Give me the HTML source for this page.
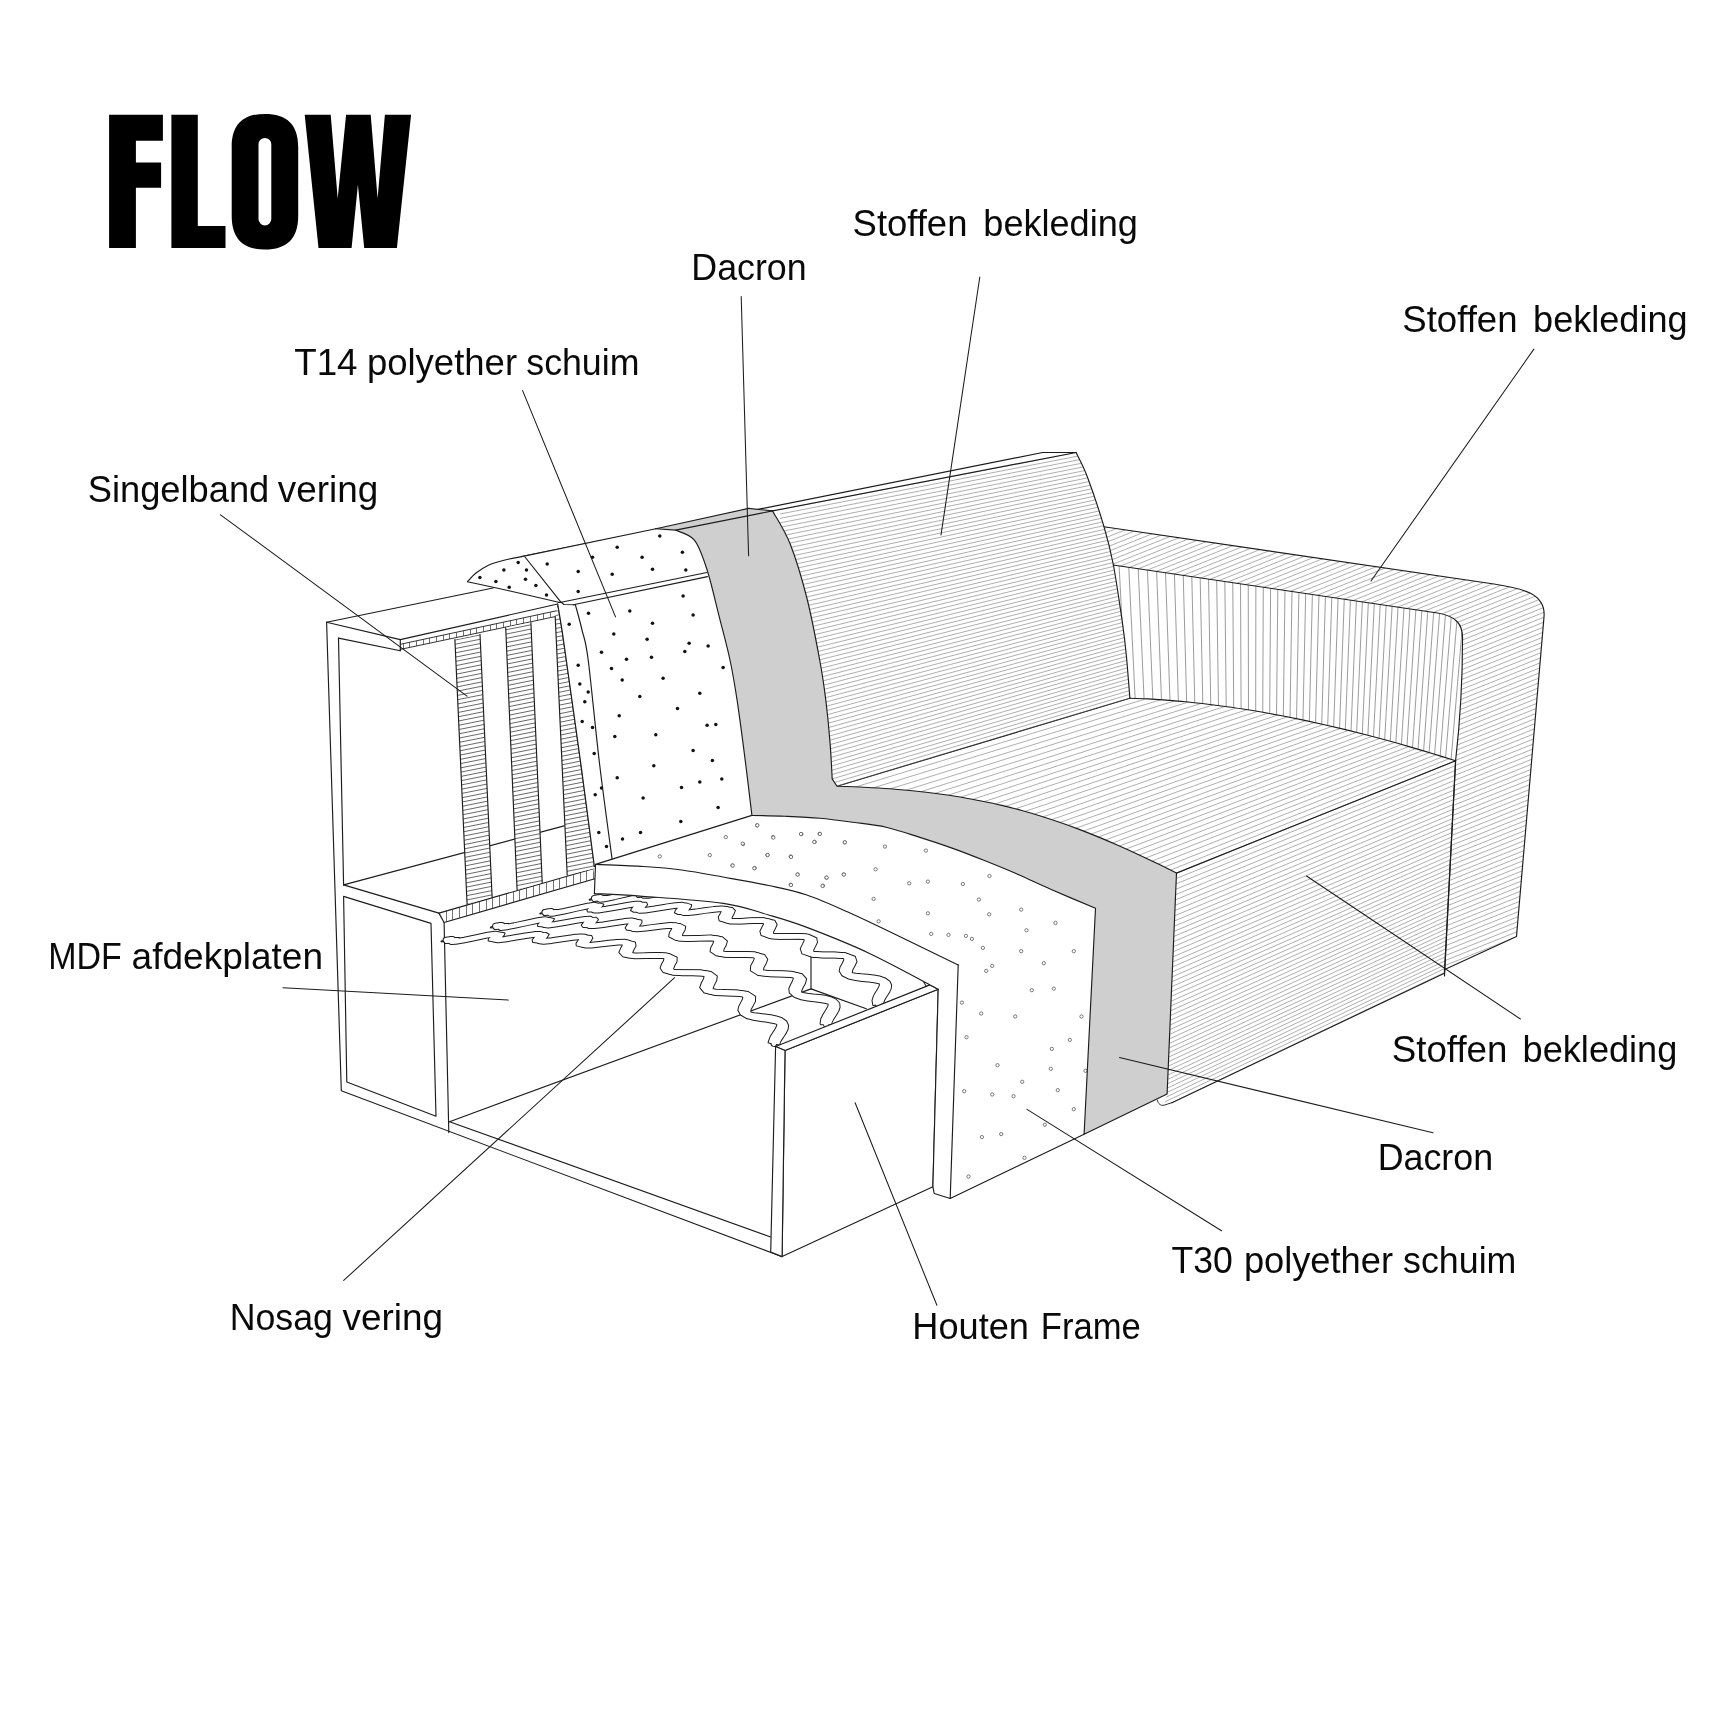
<!DOCTYPE html>
<html><head><meta charset="utf-8"><title>FLOW</title>
<style>html,body{margin:0;padding:0;background:#fff;overflow:hidden;width:1726px;height:1726px}svg{display:block}</style>
</head><body>
<svg width="1726" height="1726" viewBox="0 0 1726 1726">
<rect width="1726" height="1726" fill="#fff"/>
<defs><clipPath id="c1"><path d="M1103.9 526.8L1494 584C1524 588.5 1546 594 1544 617L1516.5 936.4L1444.2 969.7L1455.6 760.8Q1462.5 700 1462.5 641C1463.5 624 1456 616 1437.5 613L1113.1 565Z"/></clipPath>
<clipPath id="c2"><path d="M1113.1 565L1437.5 613C1456 616 1463.5 624 1462.5 641Q1462.5 700 1455.6 760.8C1451.8 759.6 1440.5 756 1433 753.7C1425.5 751.4 1418 749.2 1410.7 747.1C1403.3 744.9 1395.9 742.8 1388.6 740.8C1381.3 738.8 1374.1 736.9 1366.9 735C1359.7 733.2 1352.6 731.4 1345.5 729.6C1338.4 727.9 1331.4 726.3 1324.4 724.7C1317.4 723.1 1310.5 721.6 1303.6 720.1C1296.7 718.7 1289.9 717.3 1283.1 716C1276.3 714.7 1269.6 713.5 1262.9 712.3C1256.2 711.1 1249.6 710 1243 709C1236.4 708 1229.8 707 1223.4 706.2C1216.9 705.3 1210.5 704.5 1204.1 703.7C1197.7 703 1191.4 702.3 1185.1 701.7C1178.8 701.1 1172.6 700.6 1166.4 700.1C1160.2 699.7 1154.1 699.3 1148 698.9C1141.9 698.6 1132.9 698.3 1129.9 698.2L1126.4 656L1122.5 623.4Z"/></clipPath>
<clipPath id="c3"><path d="M1129.9 698.2C1132.9 698.3 1141.9 698.6 1148 698.9C1154.1 699.3 1160.2 699.7 1166.4 700.1C1172.6 700.6 1178.8 701.1 1185.1 701.7C1191.4 702.3 1197.7 703 1204.1 703.7C1210.5 704.5 1216.9 705.3 1223.4 706.2C1229.8 707 1236.4 708 1243 709C1249.6 710 1256.2 711.1 1262.9 712.3C1269.6 713.5 1276.3 714.7 1283.1 716C1289.9 717.3 1296.7 718.7 1303.6 720.1C1310.5 721.6 1317.4 723.1 1324.4 724.7C1331.4 726.3 1338.4 727.9 1345.5 729.6C1352.6 731.4 1359.7 733.2 1366.9 735C1374.1 736.9 1381.3 738.8 1388.6 740.8C1395.9 742.8 1403.3 744.9 1410.7 747.1C1418 749.2 1425.5 751.4 1433 753.7C1440.5 756 1451.8 759.6 1455.6 760.8L1176.5 873.1L1176.5 873.1C1173.1 871.4 1162.9 866.3 1156.2 863.1C1149.5 859.9 1143 856.8 1136.5 853.7C1130 850.7 1123.6 847.8 1117.2 845C1110.8 842.2 1104.5 839.5 1098.1 836.9C1091.8 834.3 1085.5 831.8 1079.2 829.4C1072.9 827 1066.6 824.7 1060.3 822.5C1053.9 820.3 1047.6 818.2 1041.2 816.2C1034.8 814.2 1028.3 812.3 1021.8 810.5C1015.2 808.7 1008.6 807 1001.9 805.4C995.1 803.8 988.3 802.4 981.3 801C974.4 799.6 967.3 798.3 960.1 797C952.8 795.8 945.4 794.7 937.9 793.7C930.3 792.7 922.6 791.8 914.6 791C906.7 790.2 898.5 789.5 890.1 788.8C881.8 788.2 873.2 787.7 864.3 787.2C855.5 786.8 841.6 786.4 837 786.2L1129.9 698.2Z"/></clipPath>
<clipPath id="c4"><path d="M1176.5 873.1L1455.6 760.8L1444.4 973.2L1171.9 1102.7L1164 1105.2L1167.1 1094.1Z"/></clipPath>
<clipPath id="c5"><path d="M772.6 510.9L1076.1 452.5L1076.1 452.5C1078 456.7 1083 465.2 1087.6 477.5C1092.2 489.8 1099.6 511.9 1103.9 526.4C1108.2 540.9 1110.2 548.3 1113.3 564.5C1116.4 580.7 1120.3 608.1 1122.5 623.4C1124.7 638.6 1125.2 643.5 1126.4 656C1127.6 668.5 1129.3 691.2 1129.9 698.2L837 786.2L832.2 778.9L832.2 778.9C831.9 773 831.1 756.3 830.1 743.4C829.1 730.5 827.7 715.6 826 701.7C824.3 687.8 822.9 677.2 819.7 660C816.5 642.8 811.9 617.8 807 598.5C802.1 579.2 796 558.9 790.3 544.3C784.6 529.7 775.5 516.5 772.6 510.9Z"/></clipPath>
<clipPath id="c6"><path d="M454.9 639.6 L480 634.3 L492.1 896.8 L467.1 904.3Z"/></clipPath>
<clipPath id="c7"><path d="M505.7 627.5 L530.9 622.5 L542.2 882.4 L517.1 889.7Z"/></clipPath>
<clipPath id="c8"><path d="M567.2 875.1L555.2 616.6L557.7 604L557.7 604C558.4 608.3 560.6 620.7 562 630C563.4 639.3 563.1 637.6 566.3 660C569.4 682.4 576.2 729.9 580.9 764.3C585.6 798.7 592.1 849.5 594.4 866.5L593.3 868.8Z"/></clipPath>
<clipPath id="c9"><path d="M400.3 644.3 L556.8 610.7 L555.2 616.6 L400.3 649.4Z"/></clipPath>
<clipPath id="c10"><path d="M438.9 913.1 L593.3 868.8 L594.9 878.7 L444.1 922.5Z"/></clipPath>
<path id="r5q" d="M697.5 869.1 L703 868.1 L691.3 871.2 L688.5 871.9ZM703 868.1 L706 868 L693 871 L691.3 871.2ZM706 868 L704.6 869.2 L691.6 872.1 L693 871ZM704.6 869.2 L704.8 869.6 L692.5 872.8 L691.6 872.1ZM704.8 869.6 L705.4 869.5 L702 871.4 L692.5 872.8ZM705.4 869.5 L712.9 867.8 L715.1 868.4 L702 871.4ZM712.9 867.8 L725.5 864.7 L728 865.3 L715.1 868.4ZM725.5 864.7 L738.8 861.7 L736.7 863.4 L728 865.3ZM738.8 861.7 L749.6 860.2 L737.7 863.2 L736.7 863.4ZM749.6 860.2 L751.1 861.1 L738.1 863.7 L737.7 863.2ZM751.1 861.1 L749.4 862.8 L736.6 865.1 L738.1 863.7ZM749.4 862.8 L748.1 864.2 L735.1 866.7 L736.6 865.1ZM748.1 864.2 L748.6 864.7 L737.4 867.6 L735.1 866.7ZM748.6 864.7 L749.7 864.5 L747.7 866.5 L737.4 867.6ZM749.7 864.5 L757 863.1 L759.3 864.4 L747.7 866.5ZM757 863.1 L768.1 860.8 L770.8 862 L759.3 864.4ZM768.1 860.8 L779.8 858.5 L779.4 860.4 L770.8 862ZM779.8 858.5 L791 857.2 L781.5 860.1 L779.4 860.4ZM791 857.2 L795.1 858.1 L782.1 860.3 L781.5 860.1ZM795.1 858.1 L794.1 859.9 L781.2 861.7 L782.1 860.3ZM794.1 859.9 L792.3 861.8 L779.3 863.7 L781.2 861.7ZM792.3 861.8 L792.3 862.8 L779.7 865.3 L779.3 863.7ZM792.3 862.8 L792.8 862.8 L787.8 865.4 L779.7 865.3ZM792.8 862.8 L798 862 L799.6 863.7 L787.8 865.4ZM798 862 L808.5 860.1 L811.4 861.6 L799.6 863.7ZM808.5 860.1 L820.3 857.9 L821.3 859.8 L811.4 861.6ZM820.3 857.9 L831.9 856.5 L825.5 859.3 L821.3 859.8ZM831.9 856.5 L838.7 857.1 L825.9 859.4 L825.5 859.3ZM838.7 857.1 L838.7 859 L825.7 860.5 L825.9 859.4ZM838.7 859 L836.9 861.1 L824 862.5 L825.7 860.5ZM836.9 861.1 L836.1 862.6 L823 864.5 L824 862.5ZM836.1 862.6 L836.6 863 L825.7 865.8 L823 864.5ZM836.6 863 L837.3 863 L834.7 865.5 L825.7 865.8ZM837.3 863 L842.8 862.2 L844.7 864.1 L834.7 865.5ZM842.8 862.2 L851.7 860.6 L854.6 862.5 L844.7 864.1ZM851.7 860.6 L861.6 858.9 L863.4 861.1 L854.6 862.5ZM861.6 858.9 L871.6 857.7 L868.8 860.5 L863.4 861.1ZM871.6 857.7 L880.6 858 L869.5 860.5 L868.8 860.5ZM880.6 858 L883.1 860.2 L870 861.2 L869.5 860.5ZM883.1 860.2 L881.8 863 L869 863.2 L870 861.2ZM881.8 863 L880 865.9 L867.1 866.1 L869 863.2ZM880 865.9 L880 867.7 L867.7 869.2 L867.1 866.1ZM880 867.7 L880.6 867.8 L876.6 871.4 L867.7 869.2ZM880.6 867.8 L887.2 867.6 L889.1 871.3 L876.6 871.4ZM887.2 867.6 L899 866.7 L901.5 870.4 L889.1 871.3ZM899 866.7 L911.7 866.2 L910.7 870.1 L901.5 870.4ZM911.7 866.2 L923.1 868 L912.4 870.2 L910.7 870.1ZM923.1 868 L925.5 871.8 L912.8 871.5 L912.4 870.2ZM925.5 871.8 L923.6 875.6 L911.1 874.8 L912.8 871.5ZM923.6 875.6 L922 878.8 L909.3 878.5 L911.1 874.8ZM922 878.8 L922.4 880.2 L911.1 882 L909.3 878.5ZM922.4 880.2 L923.2 880.3 L920.4 884.3 L911.1 882ZM923.2 880.3 L929.4 880.3 L931.1 884.5 L920.4 884.3ZM929.4 880.3 L939.3 879.8 L941.7 884.1 L931.1 884.5ZM939.3 879.8 L949.9 879.5 L950.3 883.9 L941.7 884.1ZM949.9 879.5 L960.2 880.5 L954 884.1 L950.3 883.9ZM960.2 880.5 L966.6 883.8 L954.3 884.4 L954 884.1ZM966.6 883.8 L966.7 887.5 L954.2 886.5 L954.3 884.4ZM966.7 887.5 L964.6 891.3 L952.3 889.9 L954.2 886.5ZM964.6 891.3 L963.2 894.5 L950.6 893.8 L952.3 889.9ZM963.2 894.5 L963.5 895.8 L953 897.9 L950.6 893.8ZM963.5 895.8 L965 896 L963.3 900.6 L953 897.9ZM965 896 L973.2 896.2 L975.2 900.9 L963.3 900.6ZM973.2 896.2 L985 895.9 L986.7 900.7 L975.2 900.9ZM985 895.9 L996.9 896.6 L993.9 901.1 L986.7 900.7ZM996.9 896.6 L1006.3 900.1 L994.7 901.3 L993.9 901.1ZM1006.3 900.1 L1007.2 904.6 L994.8 903.3 L994.7 901.3ZM1007.2 904.6 L1005 908.8 L992.9 906.9 L994.8 903.3ZM1005 908.8 L1003.3 912.4 L991 910.9 L992.9 906.9ZM1003.3 912.4 L1003.3 914.2 L991.5 914.8 L991 910.9ZM1003.3 914.2 L1003.5 914.4 L997.2 918.5 L991.5 914.8ZM1003.5 914.4 L1005.9 914.8 L1005.1 920.3 L997.2 918.5ZM1005.9 914.8 L1011.5 915.2 L1012.7 921 L1005.1 920.3ZM1011.5 915.2 L1018.3 915.4 L1019.8 921.4 L1012.7 921ZM1018.3 915.4 L1025.2 915.8 L1026 921.9 L1019.8 921.4ZM1025.2 915.8 L1031.7 916.5 L1030.4 922.5 L1026 921.9ZM1031.7 916.5 L1037.7 918.1 L1032.5 923 L1030.4 922.5ZM1037.7 918.1 L1042.5 921 L1032.6 923.1 L1032.5 923ZM1042.5 921 L1044.5 924.3 L1032.8 923.5 L1032.6 923.1ZM1044.5 924.3 L1044.4 927.3 L1032.7 924.9 L1032.8 923.5ZM1044.4 927.3 L1043.2 930.2 L1032 927 L1032.7 924.9ZM1043.2 930.2 L1041.5 933.1 L1030.6 929.5 L1032 927ZM1041.5 933.1 L1039.9 935.8 L1029 932.1 L1030.6 929.5ZM1039.9 935.8 L1038.7 938.1 L1027.7 934.9 L1029 932.1ZM1038.7 938.1 L1038.2 939.9 L1026.9 937.6 L1027.7 934.9ZM1038.2 939.9 L1038.2 940.8 L1027.1 940.4 L1026.9 937.6ZM1038.2 940.8 L1038.3 941 L1031.4 945.5 L1027.1 940.4ZM1038.3 941 L1039.4 941.5 L1036.6 947.8 L1031.4 945.5Z"/><path id="r5c" d="M693 870.5 L697.2 869.7 L699.5 869.5 L698.1 870.6 L698.6 871.2 L703.7 870.5 L714 868.1 L726.8 865 L737.7 862.6 L743.6 861.7 L744.6 862.4 L743 863.9 L741.6 865.5 L743 866.1 L748.7 865.5 L758.2 863.7 L769.4 861.4 L779.6 859.5 L786.3 858.6 L788.6 859.2 L787.7 860.8 L785.8 862.7 L786 864.1 L790.3 864.1 L798.8 862.9 L809.9 860.8 L820.8 858.9 L828.7 857.9 L832.3 858.2 L832.2 859.8 L830.5 861.8 L829.5 863.6 L831.1 864.4 L836 864.2 L843.7 863.1 L853.1 861.5 L862.5 860 L870.2 859.1 L875 859.3 L876.5 860.7 L875.4 863.1 L873.6 866 L873.9 868.4 L878.6 869.6 L888.1 869.4 L900.3 868.6 L911.2 868.1 L917.7 869.1 L919.2 871.7 L917.4 875.2 L915.7 878.6 L916.7 881.1 L921.8 882.3 L930.3 882.4 L940.5 882 L950.1 881.7 L957.1 882.3 L960.5 884.1 L960.4 887 L958.4 890.6 L956.9 894.1 L958.2 896.9 L964.2 898.3 L974.2 898.5 L985.8 898.3 L995.4 898.8 L1000.5 900.7 L1001 903.9 L999 907.9 L997.1 911.6 L997.4 914.5 L1000.3 916.4 L1005.5 917.5 L1012.1 918.1 L1019.1 918.4 L1025.6 918.8 L1031 919.5 L1035.1 920.6 L1037.6 922 L1038.7 923.9 L1038.6 926.1 L1037.6 928.6 L1036 931.3 L1034.4 934 L1033.2 936.5 L1032.6 938.7 L1032.7 940.6 L1034.8 943.3 L1038 944.7"/>
<path id="r4q" d="M648.1 883 L653.5 882 L641.9 885.2 L639.1 885.8ZM653.5 882 L656.6 882 L643.6 885 L641.9 885.2ZM656.6 882 L655.2 883.2 L642.3 886 L643.6 885ZM655.2 883.2 L655.4 883.8 L643 886.9 L642.3 886ZM655.4 883.8 L655.9 883.7 L652.1 885.7 L643 886.9ZM655.9 883.7 L663 882.1 L665.1 882.9 L652.1 885.7ZM663 882.1 L675.4 879.2 L678 879.8 L665.1 882.9ZM675.4 879.2 L688.5 876.2 L687 877.9 L678 879.8ZM688.5 876.2 L699.7 874.6 L688.4 877.6 L687 877.9ZM699.7 874.6 L701.9 875.6 L688.8 878 L688.4 877.6ZM701.9 875.6 L700.3 877.3 L687.4 879.4 L688.8 878ZM700.3 877.3 L698.9 878.8 L685.8 881.1 L687.4 879.4ZM698.9 878.8 L699.3 879.4 L687.4 882.3 L685.8 881.1ZM699.3 879.4 L699.9 879.3 L696.9 881.6 L687.4 882.3ZM699.9 879.3 L706.3 878.2 L708.4 879.6 L696.9 881.6ZM706.3 878.2 L717.1 876 L719.9 877.3 L708.4 879.6ZM717.1 876 L728.7 873.8 L729.1 875.6 L719.9 877.3ZM728.7 873.8 L740.1 872.3 L732.3 875.1 L729.1 875.6ZM740.1 872.3 L745.7 873 L732.7 875.3 L732.3 875.1ZM745.7 873 L745.2 874.8 L732.2 876.6 L732.7 875.3ZM745.2 874.8 L743.3 876.8 L730.3 878.5 L732.2 876.6ZM743.3 876.8 L742.9 878.1 L729.9 880.4 L730.3 878.5ZM742.9 878.1 L743.3 878.2 L736.2 881 L729.9 880.4ZM743.3 878.2 L747 877.7 L747.8 879.7 L736.2 881ZM747 877.7 L756.7 876 L759.6 877.6 L747.8 879.7ZM756.7 876 L768.3 873.9 L770.1 875.8 L759.6 877.6ZM768.3 873.9 L779.9 872.3 L775.9 875 L770.1 875.8ZM779.9 872.3 L788.6 872.5 L776.4 875 L775.9 875ZM788.6 872.5 L789.7 874.3 L776.7 875.9 L776.4 875ZM789.7 874.3 L788.1 876.5 L775.2 877.8 L776.7 875.9ZM788.1 876.5 L786.8 878.3 L773.8 879.9 L775.2 877.8ZM786.8 878.3 L787.2 879.1 L774.9 881.5 L773.8 879.9ZM787.2 879.1 L787.4 879.1 L782.2 881.9 L774.9 881.5ZM787.4 879.1 L791.1 878.6 L792 880.8 L782.2 881.9ZM791.1 878.6 L799.1 877.3 L801.8 879.4 L792 880.8ZM799.1 877.3 L808.7 875.7 L811.2 878 L801.8 879.4ZM808.7 875.7 L818.7 874.4 L818.2 877.1 L811.2 878ZM818.7 874.4 L828.6 874.2 L820.2 877.1 L818.2 877.1ZM828.6 874.2 L833.5 876 L820.6 877.4 L820.2 877.1ZM833.5 876 L833.1 878.8 L820.2 879.1 L820.6 877.4ZM833.1 878.8 L831.1 881.9 L818.3 881.9 L820.2 879.1ZM831.1 881.9 L830.4 884.4 L817.5 885.1 L818.3 881.9ZM830.4 884.4 L830.8 884.9 L823.4 888.1 L817.5 885.1ZM830.8 884.9 L834.9 884.9 L835.6 888.7 L823.4 888.1ZM834.9 884.9 L845.6 884.2 L848.2 888 L835.6 888.7ZM845.6 884.2 L858.2 883.5 L858.9 887.5 L848.2 888ZM858.2 883.5 L870.5 884.4 L862.8 887.7 L858.9 887.5ZM870.5 884.4 L876 888.1 L863.3 888.3 L862.8 887.7ZM876 888.1 L874.8 892 L862.3 891.1 L863.3 888.3ZM874.8 892 L872.8 895.5 L860.2 894.8 L862.3 891.1ZM872.8 895.5 L872.5 897.8 L860 898.4 L860.2 894.8ZM872.5 897.8 L872.8 898.1 L866.6 901.7 L860 898.4ZM872.8 898.1 L876.6 898.2 L877.2 902.6 L866.6 901.7ZM876.6 898.2 L885.4 898 L887.8 902.4 L877.2 902.6ZM885.4 898 L895.8 897.6 L897.4 902.1 L887.8 902.4ZM895.8 897.6 L906.2 898 L903.5 902.3 L897.4 902.1ZM906.2 898 L915.2 900.5 L904.3 902.4 L903.5 902.3ZM915.2 900.5 L917.2 904.4 L904.7 903.7 L904.3 902.4ZM917.2 904.4 L915.6 908.3 L903.3 906.8 L904.7 903.7ZM915.6 908.3 L913.6 911.9 L901.2 910.7 L903.3 906.8ZM913.6 911.9 L913.4 914.3 L901.2 914.8 L901.2 910.7ZM913.4 914.3 L913.8 914.5 L909 918.7 L901.2 914.8ZM913.8 914.5 L919.5 914.9 L920.7 919.7 L909 918.7ZM919.5 914.9 L930.5 914.8 L932.6 919.7 L920.7 919.7ZM930.5 914.8 L942.4 915 L942 919.8 L932.6 919.7ZM942.4 915 L953.5 917.4 L944.5 920.2 L942 919.8ZM953.5 917.4 L957.3 922 L944.9 921.2 L944.5 920.2ZM957.3 922 L955.8 926.4 L943.7 924.4 L944.9 921.2ZM955.8 926.4 L953.5 930.3 L941.5 928.3 L943.7 924.4ZM953.5 930.3 L952.8 933.1 L940.5 932.2 L941.5 928.3ZM952.8 933.1 L953 933.9 L943.2 936.2 L940.5 932.2ZM953 933.9 L953.7 934.1 L950.3 939.2 L943.2 936.2ZM953.7 934.1 L957.6 934.6 L957.8 940.5 L950.3 939.2ZM957.6 934.6 L963.6 935 L965 941.1 L957.8 940.5ZM963.6 935 L970.3 935.3 L971.6 941.6 L965 941.1ZM970.3 935.3 L976.9 935.9 L977 942.1 L971.6 941.6ZM976.9 935.9 L983 936.9 L980.5 942.8 L977 942.1ZM983 936.9 L988.6 938.9 L981.8 943.2 L980.5 942.8ZM988.6 938.9 L992.5 942.2 L981.8 943.3 L981.8 943.2ZM992.5 942.2 L993.7 945.5 L982 944 L981.8 943.3ZM993.7 945.5 L993 948.6 L981.7 945.6 L982 944ZM993 948.6 L991.5 951.6 L980.7 947.9 L981.7 945.6ZM991.5 951.6 L989.8 954.5 L979.1 950.6 L980.7 947.9ZM989.8 954.5 L988.2 957.2 L977.5 953.3 L979.1 950.6ZM988.2 957.2 L987.1 959.4 L976.2 956.1 L977.5 953.3ZM987.1 959.4 L986.7 961 L975.6 958.8 L976.2 956.1ZM986.7 961 L986.8 961.9 L977.3 964.2 L975.6 958.8ZM986.8 961.9 L987 962 L981.7 967.5 L977.3 964.2Z"/><path id="r4c" d="M643.6 884.4 L647.7 883.6 L650.1 883.5 L648.8 884.6 L649.2 885.3 L654 884.7 L664 882.5 L676.7 879.5 L687.8 877.1 L694 876.1 L695.4 876.8 L693.9 878.3 L692.3 880 L693.3 880.8 L698.4 880.5 L707.4 878.9 L718.5 876.7 L728.9 874.7 L736.2 873.7 L739.2 874.1 L738.7 875.7 L736.8 877.6 L736.4 879.2 L739.7 879.6 L747.4 878.7 L758.2 876.8 L769.2 874.9 L777.9 873.7 L782.5 873.8 L783.2 875.1 L781.7 877.1 L780.3 879.1 L781 880.3 L784.8 880.5 L791.6 879.7 L800.5 878.4 L810 876.8 L818.4 875.8 L824.4 875.6 L827.1 876.7 L826.6 878.9 L824.7 881.9 L824 884.7 L827.1 886.5 L835.3 886.8 L846.9 886.1 L858.6 885.5 L866.7 886 L869.6 888.2 L868.6 891.6 L866.5 895.2 L866.3 898.1 L869.7 899.9 L876.9 900.4 L886.6 900.2 L896.6 899.9 L904.8 900.1 L909.7 901.5 L910.9 904.1 L909.5 907.5 L907.4 911.3 L907.3 914.5 L911.4 916.6 L920.1 917.3 L931.6 917.2 L942.2 917.4 L949 918.8 L951.1 921.6 L949.7 925.4 L947.5 929.3 L946.6 932.6 L948.1 935.1 L952 936.6 L957.7 937.5 L964.3 938 L970.9 938.4 L976.9 939 L981.8 939.9 L985.2 941.1 L987.2 942.7 L987.8 944.7 L987.4 947.1 L986.1 949.8 L984.4 952.5 L982.8 955.2 L981.7 957.7 L981.1 959.9 L982 963 L984.3 964.8"/>
<path id="r3q" d="M598.7 896.9 L604.1 896 L592.5 899.1 L589.7 899.7ZM604.1 896 L607.2 896 L594.2 898.9 L592.5 899.1ZM607.2 896 L605.9 897.3 L592.9 900 L594.2 898.9ZM605.9 897.3 L606 897.9 L593.5 900.9 L592.9 900ZM606 897.9 L606.5 897.8 L602.3 900 L593.5 900.9ZM606.5 897.8 L613.1 896.4 L615.1 897.3 L602.3 900ZM613.1 896.4 L625.3 893.6 L628 894.4 L615.1 897.3ZM625.3 893.6 L638.3 890.7 L637.4 892.4 L628 894.4ZM638.3 890.7 L649.8 889.1 L639 892.1 L637.4 892.4ZM649.8 889.1 L652.6 890 L639.5 892.4 L639 892.1ZM652.6 890 L651.2 891.7 L638.3 893.8 L639.5 892.4ZM651.2 891.7 L649.6 893.4 L636.6 895.5 L638.3 893.8ZM649.6 893.4 L649.9 894.2 L637.5 896.9 L636.6 895.5ZM649.9 894.2 L650.3 894.1 L646 896.6 L637.5 896.9ZM650.3 894.1 L655.8 893.2 L657.5 894.8 L646 896.6ZM655.8 893.2 L666.1 891.2 L669 892.6 L657.5 894.8ZM666.1 891.2 L677.6 889 L678.7 890.8 L669 892.6ZM677.6 889 L689 887.5 L682.9 890.2 L678.7 890.8ZM689 887.5 L696.1 887.9 L683.3 890.3 L682.9 890.2ZM696.1 887.9 L696.2 889.7 L683.2 891.4 L683.3 890.3ZM696.2 889.7 L694.3 891.7 L681.4 893.4 L683.2 891.4ZM694.3 891.7 L693.5 893.3 L680.4 895.3 L681.4 893.4ZM693.5 893.3 L694 893.6 L684.8 896.5 L680.4 895.3ZM694 893.6 L696.3 893.4 L696.1 895.6 L684.8 896.5ZM696.3 893.4 L705.1 891.9 L707.8 893.7 L696.1 895.6ZM705.1 891.9 L716.4 889.9 L718.7 891.8 L707.8 893.7ZM716.4 889.9 L727.9 888.3 L725.9 890.8 L718.7 891.8ZM727.9 888.3 L738 888 L727 890.7 L725.9 890.8ZM738 888 L740.6 889.7 L727.5 891.3 L727 890.7ZM740.6 889.7 L739.3 891.9 L726.4 893.1 L727.5 891.3ZM739.3 891.9 L737.7 893.9 L724.7 895.2 L726.4 893.1ZM737.7 893.9 L737.6 895 L724.7 897.1 L724.7 895.2ZM737.6 895 L738 895.2 L729.8 898.1 L724.7 897.1ZM738 895.2 L740 895 L739.4 897.5 L729.8 898.1ZM740 895 L746.7 894 L749.1 896.2 L739.4 897.5ZM746.7 894 L755.9 892.6 L758.7 894.9 L749.1 896.2ZM755.9 892.6 L765.8 891.2 L766.8 893.9 L758.7 894.9ZM765.8 891.2 L775.9 890.5 L770.7 893.7 L766.8 893.9ZM775.9 890.5 L783.3 892 L771 893.8 L770.7 893.7ZM783.3 892 L784.1 894.7 L771.2 895 L771 893.8ZM784.1 894.7 L782.3 897.9 L769.6 897.7 L771.2 895ZM782.3 897.9 L780.9 900.9 L768 901 L769.6 897.7ZM780.9 900.9 L781.3 902 L770.9 904.4 L768 901ZM781.3 902 L783.2 902.1 L782.3 906 L770.9 904.4ZM783.2 902.1 L792.4 901.7 L794.8 905.7 L782.3 906ZM792.4 901.7 L804.8 901 L806.5 905 L794.8 905.7ZM804.8 901 L817.2 901.2 L812.9 905.1 L806.5 905ZM817.2 901.2 L825.8 904.4 L813.5 905.3 L812.9 905.1ZM825.8 904.4 L825.9 908.4 L813.3 907.6 L813.5 905.3ZM825.9 908.4 L823.7 912.1 L811.2 911.1 L813.3 907.6ZM823.7 912.1 L822.6 915 L810 914.8 L811.2 911.1ZM822.6 915 L823.1 915.9 L813.4 918.5 L810 914.8ZM823.1 915.9 L824.7 916.1 L823.3 920.5 L813.4 918.5ZM824.7 916.1 L831.9 916.1 L833.8 920.6 L823.3 920.5ZM831.9 916.1 L841.9 915.8 L844 920.4 L833.8 920.6ZM841.9 915.8 L852.3 915.8 L851.8 920.4 L844 920.4ZM852.3 915.8 L862.3 917.4 L854.4 920.7 L851.8 920.4ZM862.3 917.4 L867.2 921.3 L854.7 921.2 L854.4 920.7ZM867.2 921.3 L866.5 925.3 L854.1 923.8 L854.7 921.2ZM866.5 925.3 L864.2 929.2 L852 927.6 L854.1 923.8ZM864.2 929.2 L863.2 932.3 L850.7 931.8 L852 927.6ZM863.2 932.3 L863.5 933.2 L855.1 936.3 L850.7 931.8ZM863.5 933.2 L866.6 933.5 L866.4 938.4 L855.1 936.3ZM866.6 933.5 L876.2 933.6 L878.3 938.6 L866.4 938.4ZM876.2 933.6 L888.1 933.7 L889 938.7 L878.3 938.6ZM888.1 933.7 L899.6 935 L894.2 939.2 L889 938.7ZM899.6 935 L906.6 939.4 L894.5 939.5 L894.2 939.2ZM906.6 939.4 L906.3 943.9 L894.2 942.1 L894.5 939.5ZM906.3 943.9 L904 948.1 L892.1 945.8 L894.2 942.1ZM904 948.1 L902.4 951.5 L890.3 949.7 L892.1 945.8ZM902.4 951.5 L902.5 953.3 L890.8 953.6 L890.3 949.7ZM902.5 953.3 L902.6 953.4 L895.9 957.5 L890.8 953.6ZM902.6 953.4 L904.6 953.9 L903.1 959.7 L895.9 957.5ZM904.6 953.9 L909.5 954.4 L910.1 960.7 L903.1 959.7ZM909.5 954.4 L915.7 954.8 L916.9 961.3 L910.1 960.7ZM915.7 954.8 L922.1 955.3 L922.9 961.9 L916.9 961.3ZM922.1 955.3 L928.3 956.1 L927.6 962.5 L922.9 961.9ZM928.3 956.1 L934.1 957.5 L930.3 963.2 L927.6 962.5ZM934.1 957.5 L939.2 960.1 L930.9 963.4 L930.3 963.2ZM939.2 960.1 L942.1 963.5 L930.9 963.6 L930.9 963.4ZM942.1 963.5 L942.4 966.9 L931.1 964.6 L930.9 963.6ZM942.4 966.9 L941.3 970.1 L930.4 966.6 L931.1 964.6ZM941.3 970.1 L939.6 973.2 L929.1 969.1 L930.4 966.6ZM939.6 973.2 L937.8 976.1 L927.4 971.9 L929.1 969.1ZM937.8 976.1 L936.2 978.6 L925.8 974.6 L927.4 971.9ZM936.2 978.6 L935.3 980.7 L924.6 977.4 L925.8 974.6ZM935.3 980.7 L935 982.6 L924.2 982 L924.6 977.4ZM935 982.6 L935.1 982.8 L926.8 986.3 L924.2 982Z"/><path id="r3c" d="M594.2 898.3 L598.3 897.5 L600.7 897.4 L599.4 898.6 L599.7 899.4 L604.4 898.9 L614.1 896.9 L626.7 894 L637.8 891.5 L644.4 890.6 L646.1 891.2 L644.8 892.7 L643.1 894.5 L643.7 895.5 L648.2 895.4 L656.7 894 L667.5 891.9 L678.1 889.9 L686 888.8 L689.7 889.1 L689.7 890.5 L687.8 892.5 L687 894.3 L689.4 895.1 L696.2 894.5 L706.4 892.8 L717.6 890.9 L726.9 889.5 L732.5 889.4 L734 890.5 L732.9 892.5 L731.2 894.5 L731.2 896 L733.9 896.6 L739.7 896.2 L747.9 895.1 L757.3 893.7 L766.3 892.5 L773.3 892.1 L777.1 892.9 L777.7 894.9 L775.9 897.8 L774.4 900.9 L776.1 903.2 L782.8 904.1 L793.6 903.7 L805.6 903 L815.1 903.2 L819.6 904.9 L819.6 908 L817.5 911.6 L816.3 914.9 L818.2 917.2 L824 918.3 L832.8 918.4 L842.9 918.1 L852.1 918.1 L858.4 919.1 L861 921.3 L860.3 924.5 L858.1 928.4 L856.9 932 L859.3 934.7 L866.5 936 L877.3 936.1 L888.5 936.2 L896.9 937.1 L900.6 939.5 L900.2 943 L898 947 L896.4 950.6 L896.6 953.5 L899.2 955.5 L903.8 956.8 L909.8 957.5 L916.3 958.1 L922.5 958.6 L927.9 959.3 L932.2 960.3 L935 961.8 L936.5 963.6 L936.7 965.8 L935.9 968.4 L934.3 971.2 L932.6 974 L931 976.6 L930 979 L929.6 982.3 L931 984.5"/>
<path id="r2q" d="M549.3 910.8 L554.7 910 L543.1 913 L540.3 913.6ZM554.7 910 L557.8 910 L544.8 912.8 L543.1 913ZM557.8 910 L556.5 911.4 L543.5 913.9 L544.8 912.8ZM556.5 911.4 L556.6 912 L544 915 L543.5 913.9ZM556.6 912 L557 912 L552.5 914.2 L544 915ZM557 912 L563.3 910.7 L565.2 911.7 L552.5 914.2ZM563.3 910.7 L575.2 908 L578 908.9 L565.2 911.7ZM575.2 908 L588.1 905.2 L587.6 906.9 L578 908.9ZM588.1 905.2 L599.9 903.6 L589.7 906.5 L587.6 906.9ZM599.9 903.6 L603.3 904.4 L590.2 906.8 L589.7 906.5ZM603.3 904.4 L602.1 906.2 L589.2 908.1 L590.2 906.8ZM602.1 906.2 L600.4 907.9 L587.4 910 L589.2 908.1ZM600.4 907.9 L600.4 908.9 L587.8 911.5 L587.4 910ZM600.4 908.9 L600.8 908.9 L595.3 911.6 L587.8 911.5ZM600.8 908.9 L605.3 908.2 L606.6 910 L595.3 911.6ZM605.3 908.2 L615.1 906.4 L618 907.9 L606.6 910ZM615.1 906.4 L626.5 904.3 L628.1 906.1 L618 907.9ZM626.5 904.3 L637.9 902.7 L633.4 905.3 L628.1 906.1ZM637.9 902.7 L646.2 902.8 L633.8 905.3 L633.4 905.3ZM646.2 902.8 L647.1 904.6 L634 906.3 L633.8 905.3ZM647.1 904.6 L645.3 906.7 L632.4 908.2 L634 906.3ZM645.3 906.7 L644.2 908.5 L631.1 910.3 L632.4 908.2ZM644.2 908.5 L644.7 909.1 L633.9 911.8 L631.1 910.3ZM644.7 909.1 L645.9 908.9 L644.4 911.4 L633.9 911.8ZM645.9 908.9 L653.5 907.8 L656 909.7 L644.4 911.4ZM653.5 907.8 L664.5 905.9 L667.2 907.9 L656 909.7ZM664.5 905.9 L675.9 904.2 L675.5 906.7 L667.2 907.9ZM675.9 904.2 L686.8 903.6 L677.6 906.5 L675.5 906.7ZM686.8 903.6 L691.2 905.1 L678.1 906.8 L677.6 906.5ZM691.2 905.1 L690.5 907.3 L677.5 908.4 L678.1 906.8ZM690.5 907.3 L688.7 909.4 L675.8 910.5 L677.5 908.4ZM688.7 909.4 L688.1 910.9 L675 912.6 L675.8 910.5ZM688.1 910.9 L688.6 911.3 L678.1 914 L675 912.6ZM688.6 911.3 L689.4 911.3 L686.9 914.1 L678.1 914ZM689.4 911.3 L694.7 910.6 L696.5 913.1 L686.9 914.1ZM694.7 910.6 L703.3 909.4 L706.1 911.8 L696.5 913.1ZM703.3 909.4 L713 908 L714.9 910.7 L706.1 911.8ZM713 908 L723 907.1 L720.6 910.3 L714.9 910.7ZM723 907.1 L732.2 908 L721.4 910.4 L720.6 910.3ZM732.2 908 L734.9 910.7 L721.9 911.1 L721.4 910.4ZM734.9 910.7 L733.5 913.9 L720.8 913.6 L721.9 911.1ZM733.5 913.9 L731.6 917.2 L718.8 916.9 L720.8 913.6ZM731.6 917.2 L731.7 919.1 L719.6 920.5 L718.8 916.9ZM731.7 919.1 L732.3 919.2 L729 923.1 L719.6 920.5ZM732.3 919.2 L739.5 919.2 L741.4 923.2 L729 923.1ZM739.5 919.2 L751.4 918.5 L753.6 922.7 L741.4 923.2ZM751.4 918.5 L763.8 918.4 L762.2 922.6 L753.6 922.7ZM763.8 918.4 L774.5 920.7 L763.6 922.7 L762.2 922.6ZM774.5 920.7 L776.6 924.8 L764 924.2 L763.6 922.7ZM776.6 924.8 L774.7 928.7 L762.3 927.5 L764 924.2ZM774.7 928.7 L773 932 L760.4 931.3 L762.3 927.5ZM773 932 L773.2 933.8 L761.4 935 L760.4 931.3ZM773.2 933.8 L773.6 933.9 L769.6 938.1 L761.4 935ZM773.6 933.9 L778.8 934.2 L779.9 938.8 L769.6 938.1ZM778.8 934.2 L788 934 L790.3 938.7 L779.9 938.8ZM788 934 L798.4 933.9 L799.3 938.6 L790.3 938.7ZM798.4 933.9 L808.6 934.7 L804.2 939 L799.3 938.6ZM808.6 934.7 L816.3 938.2 L804.5 939.2 L804.2 939ZM816.3 938.2 L817 942.3 L804.6 941 L804.5 939.2ZM817 942.3 L815 946.4 L802.8 944.6 L804.6 941ZM815 946.4 L813.2 950 L800.8 948.8 L802.8 944.6ZM813.2 950 L813.4 951.8 L802.3 953.4 L800.8 948.8ZM813.4 951.8 L814.5 952.1 L812.2 956.8 L802.3 953.4ZM814.5 952.1 L822.3 952.4 L824 957.5 L812.2 956.8ZM822.3 952.4 L833.7 952.4 L835.4 957.6 L824 957.5ZM833.7 952.4 L845.3 953.2 L843 958.1 L835.4 957.6ZM845.3 953.2 L854.9 956.7 L844 958.3 L843 958.1ZM854.9 956.7 L856.5 961.5 L844.3 960 L844 958.3ZM856.5 961.5 L854.5 965.8 L842.7 963.4 L844.3 960ZM854.5 965.8 L852.4 969.6 L840.5 967.3 L842.7 963.4ZM852.4 969.6 L851.7 972.2 L839.7 971.1 L840.5 967.3ZM851.7 972.2 L852 973 L842.2 975.3 L839.7 971.1ZM852 973 L852.5 973.2 L848.6 978.5 L842.2 975.3ZM852.5 973.2 L855.9 973.8 L855.5 980.1 L848.6 978.5ZM855.9 973.8 L861.3 974.3 L862.2 980.9 L855.5 980.1ZM861.3 974.3 L867.5 974.8 L868.5 981.6 L862.2 980.9ZM867.5 974.8 L873.8 975.5 L873.9 982.2 L868.5 981.6ZM873.8 975.5 L879.6 976.5 L877.8 983 L873.9 982.2ZM879.6 976.5 L885.1 978.4 L879.6 983.5 L877.8 983ZM885.1 978.4 L889.5 981.5 L879.8 983.6 L879.6 983.5ZM889.5 981.5 L891.2 985.2 L879.9 984 L879.8 983.6ZM891.2 985.2 L890.7 988.7 L879.8 985.5 L879.9 984ZM890.7 988.7 L889.2 991.9 L878.8 987.8 L879.8 985.5ZM889.2 991.9 L887.3 994.9 L877.2 990.5 L878.8 987.8ZM887.3 994.9 L885.5 997.7 L875.4 993.3 L877.2 990.5ZM885.5 997.7 L884.2 1000.1 L873.9 996.1 L875.4 993.3ZM884.2 1000.1 L883.2 1002.8 L872.5 1000.6 L873.9 996.1ZM883.2 1002.8 L883.3 1003.6 L873.3 1005 L872.5 1000.6Z"/><path id="r2c" d="M544.8 912.2 L548.9 911.5 L551.3 911.4 L550 912.6 L550.3 913.5 L554.7 913.1 L564.2 911.2 L576.6 908.4 L587.9 906 L594.8 905.1 L596.7 905.6 L595.6 907.2 L593.9 909 L594.1 910.2 L598 910.3 L606 909.1 L616.6 907.2 L627.3 905.2 L635.6 904 L640 904.1 L640.5 905.4 L638.9 907.4 L637.6 909.4 L639.3 910.4 L645.2 910.2 L654.7 908.8 L665.8 906.9 L675.7 905.5 L682.2 905.1 L684.6 906 L684 907.8 L682.3 910 L681.6 911.7 L683.4 912.7 L688.1 912.7 L695.6 911.9 L704.7 910.6 L714 909.4 L721.8 908.7 L726.8 909.2 L728.4 910.9 L727.1 913.8 L725.2 917.1 L725.6 919.8 L730.7 921.2 L740.5 921.2 L752.5 920.6 L763 920.5 L769.1 921.7 L770.3 924.5 L768.5 928.1 L766.7 931.6 L767.3 934.4 L771.6 936 L779.4 936.5 L789.2 936.3 L798.9 936.2 L806.4 936.9 L810.4 938.7 L810.8 941.6 L808.9 945.5 L807 949.4 L807.8 952.6 L813.3 954.4 L823.1 955 L834.6 955 L844.1 955.6 L849.5 957.5 L850.4 960.7 L848.6 964.6 L846.5 968.4 L845.7 971.7 L847.1 974.1 L850.5 975.8 L855.7 976.9 L861.7 977.6 L868 978.2 L873.8 978.8 L878.7 979.7 L882.3 981 L884.6 982.6 L885.5 984.6 L885.2 987.1 L884 989.9 L882.2 992.7 L880.5 995.5 L879 998.1 L877.8 1001.7 L878.3 1004.3"/>
<path id="r1q" d="M499.9 924.7 L505.2 923.9 L493.7 926.9 L490.9 927.5ZM505.2 923.9 L508.4 924 L495.4 926.8 L493.7 926.9ZM508.4 924 L507.2 925.4 L494.2 927.9 L495.4 926.8ZM507.2 925.4 L507.2 926.1 L494.5 929 L494.2 927.9ZM507.2 926.1 L507.6 926.2 L502.6 928.5 L494.5 929ZM507.6 926.2 L513.5 925 L515.2 926.1 L502.6 928.5ZM513.5 925 L525.2 922.4 L528 923.4 L515.2 926.1ZM525.2 922.4 L537.9 919.7 L537.9 921.4 L528 923.4ZM537.9 919.7 L549.8 918.1 L540.3 921 L537.9 921.4ZM549.8 918.1 L553.9 918.9 L540.8 921.2 L540.3 921ZM553.9 918.9 L553 920.6 L540 922.5 L540.8 921.2ZM553 920.6 L551.2 922.5 L538.2 924.4 L540 922.5ZM551.2 922.5 L551 923.6 L538.1 926 L538.2 924.4ZM551 923.6 L551.4 923.7 L544.6 926.5 L538.1 926ZM551.4 923.7 L555 923.2 L555.8 925.2 L544.6 926.5ZM555 923.2 L564.2 921.6 L567.1 923.2 L555.8 925.2ZM564.2 921.6 L575.5 919.6 L577.5 921.4 L567.1 923.2ZM575.5 919.6 L586.8 917.9 L583.7 920.5 L577.5 921.4ZM586.8 917.9 L596.1 917.8 L584.4 920.4 L583.7 920.5ZM596.1 917.8 L597.9 919.5 L584.8 921.2 L584.4 920.4ZM597.9 919.5 L596.3 921.7 L583.4 923 L584.8 921.2ZM596.3 921.7 L594.9 923.6 L581.8 925.2 L583.4 923ZM594.9 923.6 L595.3 924.5 L583.3 927 L581.8 925.2ZM595.3 924.5 L595.9 924.5 L592.7 927.2 L583.3 927ZM595.9 924.5 L602.2 923.6 L604.2 925.8 L592.7 927.2ZM602.2 923.6 L612.7 921.9 L615.5 924 L604.2 925.8ZM612.7 921.9 L624 920.2 L624.7 922.6 L615.5 924ZM624 920.2 L635.1 919.4 L628.2 922.3 L624.7 922.6ZM635.1 919.4 L641.4 920.5 L628.6 922.4 L628.2 922.3ZM641.4 920.5 L641.5 922.7 L628.5 923.7 L628.6 922.4ZM641.5 922.7 L639.8 924.9 L626.9 925.9 L628.5 923.7ZM639.8 924.9 L638.7 926.7 L625.7 928 L626.9 925.9ZM638.7 926.7 L639.1 927.5 L627.1 929.8 L625.7 928ZM639.1 927.5 L639.4 927.5 L634.3 930.5 L627.1 929.8ZM639.4 927.5 L643 927.2 L643.9 929.8 L634.3 930.5ZM643 927.2 L650.7 926.1 L653.4 928.7 L643.9 929.8ZM650.7 926.1 L660.3 924.8 L662.7 927.6 L653.4 928.7ZM660.3 924.8 L670.2 923.8 L669.8 927 L662.7 927.6ZM670.2 923.8 L680.2 924.1 L672 927.1 L669.8 927ZM680.2 924.1 L685.2 926.6 L672.4 927.4 L672 927.1ZM685.2 926.6 L684.6 929.9 L671.9 929.5 L672.4 927.4ZM684.6 929.9 L682.5 933.4 L669.8 932.8 L671.9 929.5ZM682.5 933.4 L681.9 936 L669.2 936.5 L669.8 932.8ZM681.9 936 L682.3 936.4 L675.9 939.9 L669.2 936.5ZM682.3 936.4 L687.1 936.5 L688.1 940.7 L675.9 939.9ZM687.1 936.5 L698.1 936 L700.5 940.3 L688.1 940.7ZM698.1 936 L710.4 935.7 L710.6 940 L700.5 940.3ZM710.4 935.7 L722.2 937.2 L713.9 940.3 L710.6 940ZM722.2 937.2 L726.9 941.2 L714.3 941 L713.9 940.3ZM726.9 941.2 L725.7 945.2 L713.3 944 L714.3 941ZM725.7 945.2 L723.6 948.9 L711.2 947.7 L713.3 944ZM723.6 948.9 L723.1 951.4 L710.6 951.5 L711.2 947.7ZM723.1 951.4 L723.4 951.8 L716.1 955.3 L710.6 951.5ZM723.4 951.8 L726.4 952.1 L726.2 956.8 L716.1 955.3ZM726.4 952.1 L734.4 952.1 L736.5 957 L726.2 956.8ZM734.4 952.1 L744.6 952 L746.2 956.9 L736.5 957ZM744.6 952 L754.8 952.4 L753 957.2 L746.2 956.9ZM754.8 952.4 L764.3 955 L754.4 957.4 L753 957.2ZM764.3 955 L767.2 959.3 L754.8 958.5 L754.4 957.4ZM767.2 959.3 L765.7 963.5 L753.6 961.6 L754.8 958.5ZM765.7 963.5 L763.4 967.5 L751.2 965.8 L753.6 961.6ZM763.4 967.5 L763 970.3 L750.8 970.4 L751.2 965.8ZM763 970.3 L763.4 970.6 L758.1 974.9 L750.8 970.4ZM763.4 970.6 L768.8 971.1 L769.8 976.3 L758.1 974.9ZM768.8 971.1 L779.5 971.3 L781.5 976.5 L769.8 976.3ZM779.5 971.3 L791.1 971.7 L790.8 976.9 L781.5 976.5ZM791.1 971.7 L801.9 974.2 L793.6 977.4 L790.8 976.9ZM801.9 974.2 L806.1 979 L793.9 978.1 L793.6 977.4ZM806.1 979 L804.9 983.5 L793 981.1 L793.9 978.1ZM804.9 983.5 L802.6 987.5 L790.9 984.9 L793 981.1ZM802.6 987.5 L801.2 990.8 L789.3 988.7 L790.9 984.9ZM801.2 990.8 L801.1 992.5 L789.8 992.8 L789.3 988.7ZM801.1 992.5 L801.3 992.6 L794.3 996.8 L789.8 992.8ZM801.3 992.6 L803 993.1 L801 999.2 L794.3 996.8ZM803 993.1 L807.4 993.8 L807.6 1000.4 L801 999.2ZM807.4 993.8 L813.1 994.4 L814 1001.2 L807.6 1000.4ZM813.1 994.4 L819.3 995 L819.8 1001.9 L814 1001.2ZM819.3 995 L825.2 995.8 L824.5 1002.7 L819.8 1001.9ZM825.2 995.8 L830.8 997.2 L827.6 1003.4 L824.5 1002.7ZM830.8 997.2 L835.9 999.6 L828.5 1003.8 L827.6 1003.4ZM835.9 999.6 L839.2 1003.3 L828.6 1003.9 L828.5 1003.8ZM839.2 1003.3 L839.6 1007.1 L828.7 1004.8 L828.6 1003.9ZM839.6 1007.1 L838.5 1010.6 L828.1 1006.7 L828.7 1004.8ZM838.5 1010.6 L836.7 1013.8 L826.7 1009.3 L828.1 1006.7ZM836.7 1013.8 L834.8 1016.8 L825 1012.1 L826.7 1009.3ZM834.8 1016.8 L833.1 1019.4 L823.2 1014.9 L825 1012.1ZM833.1 1019.4 L831.6 1022.4 L821.3 1018.8 L823.2 1014.9ZM831.6 1022.4 L831.3 1024.2 L820.6 1023.3 L821.3 1018.8ZM831.3 1024.2 L831.4 1024.3 L820.8 1024.2 L820.6 1023.3Z"/><path id="r1c" d="M495.4 926.1 L499.4 925.4 L501.9 925.4 L500.7 926.7 L500.8 927.6 L505.1 927.3 L514.3 925.6 L526.6 922.9 L537.9 920.6 L545.1 919.5 L547.4 920 L546.5 921.6 L544.7 923.4 L544.6 924.8 L548 925.1 L555.4 924.2 L565.7 922.4 L576.5 920.5 L585.2 919.2 L590.3 919.1 L591.3 920.3 L589.9 922.3 L588.4 924.4 L589.3 925.8 L594.3 925.8 L603.2 924.7 L614.1 923 L624.3 921.4 L631.6 920.8 L635 921.5 L635 923.2 L633.4 925.4 L632.2 927.4 L633.1 928.6 L636.9 929 L643.5 928.5 L652.1 927.4 L661.5 926.2 L670 925.4 L676.1 925.6 L678.8 927 L678.2 929.7 L676.2 933.1 L675.5 936.2 L679.1 938.2 L687.6 938.6 L699.3 938.2 L710.5 937.9 L718 938.7 L720.6 941.1 L719.5 944.6 L717.4 948.3 L716.9 951.4 L719.7 953.5 L726.3 954.5 L735.5 954.6 L745.4 954.4 L753.9 954.8 L759.3 956.2 L761 958.9 L759.6 962.6 L757.3 966.7 L756.9 970.3 L760.7 972.8 L769.3 973.7 L780.5 973.9 L790.9 974.3 L797.8 975.8 L800 978.6 L799 982.3 L796.7 986.2 L795.2 989.7 L795.5 992.6 L797.8 994.7 L802 996.2 L807.5 997.1 L813.6 997.8 L819.5 998.4 L824.9 999.2 L829.2 1000.3 L832.2 1001.7 L833.9 1003.6 L834.2 1006 L833.3 1008.7 L831.7 1011.5 L829.9 1014.4 L828.2 1017.1 L826.5 1020.6 L826 1023.7 L826.1 1024.2"/>
<path id="r0q" d="M450.5 938.6 L455.8 937.9 L444.2 940.8 L441.5 941.4ZM455.8 937.9 L459 938.1 L446 940.7 L444.2 940.8ZM459 938.1 L457.8 939.5 L444.8 941.8 L446 940.7ZM457.8 939.5 L457.8 940.3 L445 943.1 L444.8 941.8ZM457.8 940.3 L458.2 940.3 L452.8 942.8 L445 943.1ZM458.2 940.3 L463.6 939.3 L465.3 940.5 L452.8 942.8ZM463.6 939.3 L475.1 936.8 L477.9 937.9 L465.3 940.5ZM475.1 936.8 L487.8 934.2 L488 935.9 L477.9 937.9ZM487.8 934.2 L499.7 932.6 L491 935.4 L488 935.9ZM499.7 932.6 L504.5 933.3 L491.4 935.6 L491 935.4ZM504.5 933.3 L503.8 935.1 L490.8 936.9 L491.4 935.6ZM503.8 935.1 L502 937.1 L489 938.8 L490.8 936.9ZM502 937.1 L501.6 938.3 L488.6 940.6 L489 938.8ZM501.6 938.3 L502 938.5 L493.9 941.4 L488.6 940.6ZM502 938.5 L504.8 938.2 L504.9 940.3 L493.9 941.4ZM504.8 938.2 L513.4 936.8 L516.2 938.5 L504.9 940.3ZM513.4 936.8 L524.4 934.8 L526.8 936.7 L516.2 938.5ZM524.4 934.8 L535.6 933.2 L533.8 935.7 L526.8 936.7ZM535.6 933.2 L545.8 932.9 L534.9 935.6 L533.8 935.7ZM545.8 932.9 L548.6 934.4 L535.5 936.1 L534.9 935.6ZM548.6 934.4 L547.3 936.6 L534.4 937.9 L535.5 936.1ZM547.3 936.6 L545.7 938.8 L532.6 940.1 L534.4 937.9ZM545.7 938.8 L545.8 939.9 L533.2 942.1 L532.6 940.1ZM545.8 939.9 L546.1 940 L541.1 942.9 L533.2 942.1ZM546.1 940 L551 939.4 L552.5 941.8 L541.1 942.9ZM551 939.4 L560.9 937.9 L563.8 940.1 L552.5 941.8ZM560.9 937.9 L572.1 936.2 L573.6 938.6 L563.8 940.1ZM572.1 936.2 L583.2 935.2 L578.6 938.1 L573.6 938.6ZM583.2 935.2 L591.3 936 L579 938.2 L578.6 938.1ZM591.3 936 L592.3 938.1 L579.3 939.2 L579 938.2ZM592.3 938.1 L590.9 940.4 L578 941.2 L579.3 939.2ZM590.9 940.4 L589.5 942.4 L576.5 943.4 L578 941.2ZM589.5 942.4 L589.5 943.6 L576.7 945.4 L576.5 943.4ZM589.5 943.6 L589.8 943.7 L582 946.7 L576.7 945.4ZM589.8 943.7 L591.9 943.6 L591.3 946.5 L582 946.7ZM591.9 943.6 L598.5 942.9 L600.8 945.6 L591.3 946.5ZM598.5 942.9 L607.6 941.7 L610.3 944.6 L600.8 945.6ZM607.6 941.7 L617.5 940.6 L618.4 943.9 L610.3 944.6ZM617.5 940.6 L627.6 940.4 L622.3 943.8 L618.4 943.9ZM627.6 940.4 L635 942.6 L622.6 944 L622.3 943.8ZM635 942.6 L635.5 945.9 L622.7 945.6 L622.6 944ZM635.5 945.9 L633.5 949.5 L620.9 948.8 L622.7 945.6ZM633.5 949.5 L632.2 952.6 L619.4 952.5 L620.9 948.8ZM632.2 952.6 L632.6 953.6 L623.2 956.4 L619.4 952.5ZM632.6 953.6 L635.2 953.8 L634.9 958.1 L623.2 956.4ZM635.2 953.8 L644.9 953.6 L647.3 957.9 L634.9 958.1ZM644.9 953.6 L657.1 953.1 L658.4 957.6 L647.3 957.9ZM657.1 953.1 L669.1 953.9 L664 957.8 L658.4 957.6ZM669.1 953.9 L676.7 957.6 L664.4 958.1 L664 957.8ZM676.7 957.6 L676.5 961.7 L664.1 960.5 L664.4 958.1ZM676.5 961.7 L674.3 965.6 L662 964.2 L664.1 960.5ZM674.3 965.6 L673.1 968.7 L660.6 968 L662 964.2ZM673.1 968.7 L673.5 969.8 L663.3 972 L660.6 968ZM673.5 969.8 L674.6 970 L672.6 974.6 L663.3 972ZM674.6 970 L681.2 970.2 L682.7 975.2 L672.6 974.6ZM681.2 970.2 L690.8 970.2 L692.8 975.2 L682.7 975.2ZM690.8 970.2 L701.1 970.4 L701 975.4 L692.8 975.2ZM701.1 970.4 L711.1 972.1 L704.3 975.8 L701 975.4ZM711.1 972.1 L716.8 976.3 L704.5 976.2 L704.3 975.8ZM716.8 976.3 L716.2 980.6 L704.1 978.8 L704.5 976.2ZM716.2 980.6 L713.9 984.9 L701.8 982.9 L704.1 978.8ZM713.9 984.9 L712.6 988.4 L700.2 987.5 L701.8 982.9ZM712.6 988.4 L712.9 989.3 L704.4 992.5 L700.2 987.5ZM712.9 989.3 L715.9 989.8 L715.7 995 L704.4 992.5ZM715.9 989.8 L725.5 990.1 L727.4 995.5 L715.7 995ZM725.5 990.1 L737 990.4 L737.8 995.8 L727.4 995.5ZM737 990.4 L748.1 992 L742.9 996.4 L737.8 995.8ZM748.1 992 L755.1 996.5 L743.3 996.7 L742.9 996.4ZM755.1 996.5 L755 1001.2 L743.1 999 L743.3 996.7ZM755 1001.2 L752.8 1005.4 L741.2 1002.6 L743.1 999ZM752.8 1005.4 L750.8 1009 L739.2 1006.4 L741.2 1002.6ZM750.8 1009 L750.2 1011.6 L738.4 1010.3 L739.2 1006.4ZM750.2 1011.6 L750.4 1012.3 L740.8 1014.6 L738.4 1010.3ZM750.4 1012.3 L750.9 1012.5 L746.7 1018.1 L740.8 1014.6ZM750.9 1012.5 L754 1013.2 L753.2 1019.8 L746.7 1018.1ZM754 1013.2 L759 1013.8 L759.5 1020.8 L753.2 1019.8ZM759 1013.8 L764.9 1014.5 L765.5 1021.6 L759.5 1020.8ZM764.9 1014.5 L770.9 1015.2 L770.8 1022.4 L765.5 1021.6ZM770.9 1015.2 L776.5 1016.4 L774.8 1023.2 L770.8 1022.4ZM776.5 1016.4 L781.9 1018.2 L776.9 1023.9 L774.8 1023.2ZM781.9 1018.2 L786.3 1021.4 L777.1 1024.1 L776.9 1023.9ZM786.3 1021.4 L788.1 1025.5 L777.3 1024.4 L777.1 1024.1ZM788.1 1025.5 L787.6 1029.3 L777.1 1025.9 L777.3 1024.4ZM787.6 1029.3 L786 1032.6 L776 1028.2 L777.1 1025.9ZM786 1032.6 L784 1035.8 L774.4 1030.9 L776 1028.2ZM784 1035.8 L782.1 1038.6 L772.5 1033.7 L774.4 1030.9ZM782.1 1038.6 L780.3 1041.5 L770.5 1037.1 L772.5 1033.7ZM780.3 1041.5 L779.3 1044.2 L768.8 1041.7 L770.5 1037.1ZM779.3 1044.2 L779.3 1044.6 L768.6 1042.6 L768.8 1041.7Z"/><path id="r0c" d="M446 940 L450 939.4 L452.5 939.4 L451.3 940.7 L451.4 941.7 L455.5 941.5 L464.5 939.9 L476.5 937.4 L487.9 935.1 L495.3 934 L498 934.5 L497.3 936 L495.5 937.9 L495.1 939.4 L498 940 L504.9 939.3 L514.8 937.6 L525.6 935.8 L534.7 934.4 L540.4 934.2 L542 935.3 L540.9 937.3 L539.2 939.5 L539.5 941 L543.6 941.4 L551.8 940.6 L562.3 939 L572.9 937.4 L580.9 936.7 L585.1 937.1 L585.8 938.7 L584.4 940.8 L583 942.9 L583.1 944.5 L585.9 945.2 L591.6 945.1 L599.6 944.2 L608.9 943.1 L617.9 942.2 L625 942.1 L628.8 943.3 L629.1 945.7 L627.2 949.1 L625.8 952.6 L627.9 955 L635.1 956 L646.1 955.7 L657.8 955.4 L666.6 955.9 L670.5 957.9 L670.3 961.1 L668.2 964.9 L666.8 968.3 L668.4 970.9 L673.6 972.3 L682 972.7 L691.8 972.7 L701.1 972.9 L707.7 974 L710.7 976.3 L710.2 979.7 L707.8 983.9 L706.4 987.9 L708.7 990.9 L715.8 992.4 L726.5 992.8 L737.4 993.1 L745.5 994.2 L749.2 996.6 L749 1000.1 L747 1004 L745 1007.7 L744.3 1010.9 L745.6 1013.5 L748.8 1015.3 L753.6 1016.5 L759.3 1017.3 L765.2 1018.1 L770.9 1018.8 L775.7 1019.8 L779.4 1021 L781.7 1022.7 L782.7 1024.9 L782.3 1027.6 L781 1030.4 L779.2 1033.4 L777.3 1036.2 L775.4 1039.3 L774 1042.9 L773.9 1043.6"/>
<filter id="idf" x="0" y="0" width="1726" height="1726" filterUnits="userSpaceOnUse"><feOffset dx="0" dy="0"/></filter></defs>
<path clip-path="url(#c1)" d="M1095 512.6L1555 328.6M1095 517.5L1555 333.5M1095 522.4L1555 338.4M1095 527.3L1555 343.3M1095 532.2L1555 348.2M1095 537.1L1555 353.1M1095 542L1555 358M1095 546.9L1555 362.9M1095 551.8L1555 367.8M1095 556.7L1555 372.7M1095 561.6L1555 377.6M1095 566.5L1555 382.5M1095 571.4L1555 387.4M1095 576.3L1555 392.3M1095 581.2L1555 397.2M1095 586.1L1555 402.1M1095 591L1555 407M1095 595.9L1555 411.9M1095 600.8L1555 416.8M1095 605.7L1555 421.7M1095 610.6L1555 426.6M1095 615.5L1555 431.5M1095 620.4L1555 436.4M1095 625.3L1555 441.3M1095 630.2L1555 446.2M1095 635.1L1555 451.1M1095 640L1555 456M1095 644.9L1555 460.9M1095 649.8L1555 465.8M1095 654.7L1555 470.7M1095 659.6L1555 475.6M1095 664.5L1555 480.5M1095 669.4L1555 485.4M1095 674.3L1555 490.3M1095 679.2L1555 495.2M1095 684.1L1555 500.1M1095 689L1555 505M1095 693.9L1555 509.9M1095 698.8L1555 514.8M1095 703.7L1555 519.7M1095 708.6L1555 524.6M1095 713.5L1555 529.5M1095 718.4L1555 534.4M1095 723.3L1555 539.3M1095 728.2L1555 544.2M1095 733.1L1555 549.1M1095 738L1555 554M1095 742.9L1555 558.9M1095 747.8L1555 563.8M1095 752.7L1555 568.7M1095 757.6L1555 573.6M1095 762.5L1555 578.5M1095 767.4L1555 583.4M1095 772.3L1555 588.3M1095 777.2L1555 593.2M1095 782.1L1555 598.1M1095 787L1555 603M1095 791.9L1555 607.9M1095 796.8L1555 612.8M1095 801.7L1555 617.7M1095 806.6L1555 622.6M1095 811.5L1555 627.5M1095 816.4L1555 632.4M1095 821.3L1555 637.3M1095 826.2L1555 642.2M1095 831.1L1555 647.1M1095 836L1555 652M1095 840.9L1555 656.9M1095 845.8L1555 661.8M1095 850.7L1555 666.7M1095 855.6L1555 671.6M1095 860.5L1555 676.5M1095 865.4L1555 681.4M1095 870.3L1555 686.3M1095 875.2L1555 691.2M1095 880.1L1555 696.1M1095 885L1555 701M1095 889.9L1555 705.9M1095 894.8L1555 710.8M1095 899.7L1555 715.7M1095 904.6L1555 720.6M1095 909.5L1555 725.5M1095 914.4L1555 730.4M1095 919.3L1555 735.3M1095 924.2L1555 740.2M1095 929.1L1555 745.1M1095 934L1555 750M1095 938.9L1555 754.9M1095 943.8L1555 759.8M1095 948.7L1555 764.7M1095 953.6L1555 769.6M1095 958.5L1555 774.5M1095 963.4L1555 779.4M1095 968.3L1555 784.3M1095 973.2L1555 789.2M1095 978.1L1555 794.1M1095 983L1555 799M1095 987.9L1555 803.9M1095 992.8L1555 808.8M1095 997.7L1555 813.7M1095 1002.6L1555 818.6M1095 1007.5L1555 823.5M1095 1012.4L1555 828.4M1095 1017.3L1555 833.3M1095 1022.2L1555 838.2M1095 1027.1L1555 843.1M1095 1032L1555 848M1095 1036.9L1555 852.9M1095 1041.8L1555 857.8M1095 1046.7L1555 862.7M1095 1051.6L1555 867.6M1095 1056.5L1555 872.5M1095 1061.4L1555 877.4M1095 1066.3L1555 882.3M1095 1071.2L1555 887.2M1095 1076.1L1555 892.1M1095 1081L1555 897M1095 1085.9L1555 901.9M1095 1090.8L1555 906.8M1095 1095.7L1555 911.7M1095 1100.6L1555 916.6M1095 1105.5L1555 921.5M1095 1110.4L1555 926.4M1095 1115.3L1555 931.3M1095 1120.2L1555 936.2M1095 1125.1L1555 941.1M1095 1130L1555 946M1095 1134.9L1555 950.9M1095 1139.8L1555 955.8M1095 1144.7L1555 960.7M1095 1149.6L1555 965.6M1095 1154.5L1555 970.5M1095 1159.4L1555 975.4M1095 1164.3L1555 980.3" fill="none" stroke="#7d7d7d" stroke-width="0.62"/>
<path clip-path="url(#c2)" d="M1121 770L1109.1 560M1129.9 770L1118.8 560M1138.6 770L1128.4 560M1147.3 770L1137.8 560M1155.8 770L1147 560M1164.1 770L1156.2 560M1172.4 770L1165.1 560M1180.5 770L1174 560M1188.5 770L1182.8 560M1196.4 770L1191.4 560M1204.2 770L1199.8 560M1211.9 770L1208.2 560M1219.4 770L1216.4 560M1226.9 770L1224.6 560M1234.2 770L1232.6 560M1241.4 770L1240.4 560M1248.6 770L1248.2 560M1255.6 770L1255.9 560M1262.5 770L1263.4 560M1269.3 770L1270.8 560M1276 770L1278.1 560M1282.6 770L1285.4 560M1289.2 770L1292.5 560M1295.6 770L1299.5 560M1301.9 770L1306.4 560M1308.2 770L1313.2 560M1314.3 770L1319.9 560M1320.4 770L1326.5 560M1326.3 770L1333 560M1332.2 770L1339.4 560M1338 770L1345.7 560M1343.7 770L1352 560M1349.4 770L1358.1 560M1355 770L1364.2 560M1360.6 770L1370.3 560M1366.2 770L1376.4 560M1371.8 770L1382.5 560M1377.4 770L1388.6 560M1383 770L1394.7 560M1388.6 770L1400.8 560M1394.2 770L1406.9 560M1399.8 770L1413 560M1405.4 770L1419.1 560M1411 770L1425.3 560M1416.6 770L1431.4 560M1422.2 770L1437.5 560M1427.8 770L1443.6 560M1433.4 770L1449.7 560M1439 770L1455.8 560M1444.6 770L1461.9 560M1450.2 770L1468 560M1455.8 770L1474.1 560M1461.4 770L1480.2 560" fill="none" stroke="#747474" stroke-width="0.72"/>
<path d="M1103.9 526.8L1494 584C1524 588.5 1546 594 1544 617L1516.5 936.4L1444.2 969.7" fill="none" stroke="#1c1c1c" stroke-width="1.15" stroke-linejoin="round" stroke-linecap="round" />
<path d="M1113.1 565L1437.5 613C1456 616 1463.5 624 1462.5 641Q1462.5 700 1455.6 760.8" fill="none" stroke="#1c1c1c" stroke-width="1.15" stroke-linejoin="round" stroke-linecap="round" />
<path clip-path="url(#c3)" d="M830 788.3L1460 599M830 794.7L1460 603.6M830 801.1L1460 608.1M830 807.5L1460 612.7M830 813.9L1460 617.3M830 820.3L1460 621.9M830 826.7L1460 626.4M830 833.1L1460 631M830 839.5L1460 635.6M830 846L1460 640.1M830 852.4L1460 644.7M830 858.8L1460 649.3M830 865.2L1460 653.9M830 871.6L1460 658.4M830 878L1460 663M830 884.4L1460 667.6M830 890.8L1460 672.1M830 897.2L1460 676.7M830 903.6L1460 681.3M830 910L1460 685.9M830 916.4L1460 690.4M830 922.8L1460 695M830 929.2L1460 699.6M830 935.6L1460 704.1M830 942L1460 708.7M830 948.4L1460 713.3M830 954.8L1460 717.9M830 961.3L1460 722.4M830 967.7L1460 727M830 974.1L1460 731.6M830 980.5L1460 736.1M830 986.9L1460 740.7M830 993.3L1460 745.3M830 999.7L1460 749.9M830 1006.1L1460 754.4M830 1012.5L1460 759" fill="none" stroke="#7d7d7d" stroke-width="0.62"/>
<path clip-path="url(#c4)" d="M1160 879.7L1460 759M1160 885.1L1460 763.8M1160 890.4L1460 768.6M1160 895.7L1460 773.4M1160 901L1460 778.2M1160 906.2L1460 782.9M1160 911.5L1460 787.6M1160 916.7L1460 792.3M1160 921.9L1460 797M1160 927L1460 801.7M1160 932.2L1460 806.3M1160 937.3L1460 810.9M1160 942.3L1460 815.5M1160 947.4L1460 820M1160 952.4L1460 824.5M1160 957.4L1460 829.1M1160 962.4L1460 833.5M1160 967.4L1460 838M1160 972.3L1460 842.5M1160 977.2L1460 846.9M1160 982.1L1460 851.3M1160 986.9L1460 855.6M1160 991.8L1460 860M1160 996.6L1460 864.3M1160 1001.3L1460 868.6M1160 1006.1L1460 872.9M1160 1010.8L1460 877.2M1160 1015.5L1460 881.4M1160 1020.2L1460 885.6M1160 1024.9L1460 889.8M1160 1029.5L1460 894M1160 1034.1L1460 898.1M1160 1038.7L1460 902.2M1160 1043.2L1460 906.3M1160 1047.7L1460 910.4M1160 1052.2L1460 914.5M1160 1056.7L1460 918.5M1160 1061.1L1460 922.5M1160 1065.6L1460 926.5M1160 1070L1460 930.5M1160 1074.3L1460 934.4M1160 1078.7L1460 938.3M1160 1083L1460 942.2M1160 1087.3L1460 946.1M1160 1091.6L1460 949.9M1160 1095.8L1460 953.8M1160 1100L1460 957.6M1160 1104.2L1460 961.3M1160 1108.4L1460 965.1" fill="none" stroke="#7d7d7d" stroke-width="0.62"/>
<path d="M1129.9 698.2C1132.9 698.3 1141.9 698.6 1148 698.9C1154.1 699.3 1160.2 699.7 1166.4 700.1C1172.6 700.6 1178.8 701.1 1185.1 701.7C1191.4 702.3 1197.7 703 1204.1 703.7C1210.5 704.5 1216.9 705.3 1223.4 706.2C1229.8 707 1236.4 708 1243 709C1249.6 710 1256.2 711.1 1262.9 712.3C1269.6 713.5 1276.3 714.7 1283.1 716C1289.9 717.3 1296.7 718.7 1303.6 720.1C1310.5 721.6 1317.4 723.1 1324.4 724.7C1331.4 726.3 1338.4 727.9 1345.5 729.6C1352.6 731.4 1359.7 733.2 1366.9 735C1374.1 736.9 1381.3 738.8 1388.6 740.8C1395.9 742.8 1403.3 744.9 1410.7 747.1C1418 749.2 1425.5 751.4 1433 753.7C1440.5 756 1451.8 759.6 1455.6 760.8" fill="none" stroke="#1c1c1c" stroke-width="1.15" stroke-linejoin="round" stroke-linecap="round" />
<path d="M1176.5 873.1 L1455.6 760.8 L1444.4 973.2" fill="none" stroke="#1c1c1c" stroke-width="1.15" stroke-linejoin="round" stroke-linecap="round" />
<path d="M1444.4 973.2 L1171.9 1102.7" fill="none" stroke="#1c1c1c" stroke-width="1.15" stroke-linejoin="round" stroke-linecap="round" />
<path d="M1455.6 760.8 L1444.5 976" fill="none" stroke="#1c1c1c" stroke-width="1.15" stroke-linejoin="round" stroke-linecap="round" />
<path d="M1157.3 1100.2C1158 1104 1161 1106 1164 1105.2L1171.9 1102.7" fill="none" stroke="#1c1c1c" stroke-width="0.9" stroke-linejoin="round" stroke-linecap="round" />
<path d="M1129.9 698.2 L837 786.2" fill="none" stroke="#1c1c1c" stroke-width="1.15" stroke-linejoin="round" stroke-linecap="round" />
<path clip-path="url(#c5)" d="M780 509.5L1135 441.1M780 514L1135 445M780 518.4L1135 448.8M780 522.9L1135 452.7M780 527.3L1135 456.6M780 531.8L1135 460.5M780 536.2L1135 464.3M780 540.7L1135 468.2M780 545.1L1135 472.1M780 549.6L1135 476M780 554L1135 479.8M780 558.5L1135 483.7M780 562.9L1135 487.6M780 567.4L1135 491.4M780 571.8L1135 495.3M780 576.3L1135 499.2M780 580.7L1135 503.1M780 585.2L1135 506.9M780 589.6L1135 510.8M780 594.1L1135 514.7M780 598.5L1135 518.6M780 603L1135 522.4M780 607.4L1135 526.3M780 611.9L1135 530.2M780 616.3L1135 534M780 620.8L1135 537.9M780 625.2L1135 541.8M780 629.7L1135 545.7M780 634.1L1135 549.5M780 638.6L1135 553.4M780 643L1135 557.3M780 647.5L1135 561.2M780 651.9L1135 565M780 656.4L1135 568.9M780 660.9L1135 572.8M780 665.3L1135 576.6M780 669.8L1135 580.5M780 674.2L1135 584.4M780 678.7L1135 588.3M780 683.1L1135 592.1M780 687.6L1135 596M780 692L1135 599.9M780 696.5L1135 603.8M780 700.9L1135 607.6M780 705.4L1135 611.5M780 709.8L1135 615.4M780 714.3L1135 619.2M780 718.7L1135 623.1M780 723.2L1135 627M780 727.6L1135 630.9M780 732.1L1135 634.7M780 736.5L1135 638.6M780 741L1135 642.5M780 745.4L1135 646.4M780 749.9L1135 650.2M780 754.3L1135 654.1M780 758.8L1135 658M780 763.2L1135 661.8M780 767.7L1135 665.7M780 772.1L1135 669.6M780 776.6L1135 673.5M780 781L1135 677.3M780 785.5L1135 681.2M780 789.9L1135 685.1M780 794.4L1135 689M780 798.8L1135 692.8M780 803.3L1135 696.7" fill="none" stroke="#7d7d7d" stroke-width="0.62"/>
<path d="M1076.1 452.5C1078 456.7 1083 465.2 1087.6 477.5C1092.2 489.8 1099.6 511.9 1103.9 526.4C1108.2 540.9 1110.2 548.3 1113.3 564.5C1116.4 580.7 1120.3 608.1 1122.5 623.4C1124.7 638.6 1125.2 643.5 1126.4 656C1127.6 668.5 1129.3 691.2 1129.9 698.2" fill="none" stroke="#1c1c1c" stroke-width="1.15" stroke-linejoin="round" stroke-linecap="round" />
<path d="M772.6 510.9 L1076.1 452.5" fill="none" stroke="#1c1c1c" stroke-width="1.15" stroke-linejoin="round" stroke-linecap="round" />
<path d="M1076.1 452.5 L1042.6 452.5" fill="none" stroke="#1c1c1c" stroke-width="1.15" stroke-linejoin="round" stroke-linecap="round" />
<path d="M521.6 556.6 L1042.6 452.5" fill="none" stroke="#1c1c1c" stroke-width="1.15" stroke-linejoin="round" stroke-linecap="round" />
<path d="M326.6 622.2 L493.1 588" fill="none" stroke="#1c1c1c" stroke-width="1.15" stroke-linejoin="round" stroke-linecap="round" />
<path d="M326.6 622.2 L400.3 639.6 L557.7 604" fill="none" stroke="#1c1c1c" stroke-width="1.15" stroke-linejoin="round" stroke-linecap="round" />
<path d="M400.3 639.6 L400.3 650.7" fill="none" stroke="#1c1c1c" stroke-width="1.15" stroke-linejoin="round" stroke-linecap="round" />
<path d="M400.3 644.3 L556.8 610.7" fill="none" stroke="#1c1c1c" stroke-width="0.9" stroke-linejoin="round" stroke-linecap="round" />
<path d="M400.3 649.4 L555.2 616.6" fill="none" stroke="#1c1c1c" stroke-width="0.9" stroke-linejoin="round" stroke-linecap="round" />
<path d="M338.5 638.1 L400.3 650.7" fill="none" stroke="#1c1c1c" stroke-width="1.15" stroke-linejoin="round" stroke-linecap="round" />
<path d="M326.6 622.2 L341.3 1090.8 L782.1 1256.6" fill="none" stroke="#1c1c1c" stroke-width="1.15" stroke-linejoin="round" stroke-linecap="round" />
<path d="M338.5 638.1 L343.6 884.9" fill="none" stroke="#1c1c1c" stroke-width="1.15" stroke-linejoin="round" stroke-linecap="round" />
<path d="M343.6 884.9 L564.1 825.9" fill="none" stroke="#1c1c1c" stroke-width="1.15" stroke-linejoin="round" stroke-linecap="round" />
<path d="M343.6 884.9 L438.9 913.1 L444.1 922.5 L448.8 1132.6" fill="none" stroke="#1c1c1c" stroke-width="1.15" stroke-linejoin="round" stroke-linecap="round" />
<path d="M343.6 896.4 L431 923.4 L436 1116.3 L346.8 1082 L343.6 896.4" fill="none" stroke="#1c1c1c" stroke-width="1.15" stroke-linejoin="round" stroke-linecap="round" />
<path d="M438.9 913.1 L593.3 868.8" fill="none" stroke="#1c1c1c" stroke-width="1.15" stroke-linejoin="round" stroke-linecap="round" />
<path d="M444.1 922.5 L594.9 878.7" fill="none" stroke="#1c1c1c" stroke-width="1.15" stroke-linejoin="round" stroke-linecap="round" />
<path d="M449.5 1121.7 L770.6 1237" fill="none" stroke="#1c1c1c" stroke-width="1.15" stroke-linejoin="round" stroke-linecap="round" />
<path d="M449.5 1121.7 L811 988.9 L866.3 1008.7" fill="none" stroke="#1c1c1c" stroke-width="1.15" stroke-linejoin="round" stroke-linecap="round" />
<path d="M811 935.7 L811 988.9" fill="none" stroke="#1c1c1c" stroke-width="1.15" stroke-linejoin="round" stroke-linecap="round" />
<path d="M454.9 639.6 L480 634.3 L492.1 896.8 L467.1 904.3Z" fill="#fff"/>
<path clip-path="url(#c6)" d="M440 587.1L610 553.1M440 591.4L610 557.4M440 595.7L610 561.7M440 600L610 566M440 604.3L610 570.3M440 608.6L610 574.6M440 612.9L610 578.9M440 617.2L610 583.2M440 621.5L610 587.5M440 625.8L610 591.8M440 630.1L610 596.1M440 634.4L610 600.4M440 638.7L610 604.7M440 643L610 609M440 647.3L610 613.3M440 651.6L610 617.6M440 655.9L610 621.9M440 660.2L610 626.2M440 664.5L610 630.5M440 668.8L610 634.8M440 673.1L610 639.1M440 677.4L610 643.4M440 681.7L610 647.7M440 686L610 652M440 690.3L610 656.3M440 694.6L610 660.6M440 698.9L610 664.9M440 703.2L610 669.2M440 707.5L610 673.5M440 711.8L610 677.8M440 716.1L610 682.1M440 720.4L610 686.4M440 724.7L610 690.7M440 729L610 695M440 733.3L610 699.3M440 737.6L610 703.6M440 741.9L610 707.9M440 746.2L610 712.2M440 750.5L610 716.5M440 754.8L610 720.8M440 759.1L610 725.1M440 763.4L610 729.4M440 767.7L610 733.7M440 772L610 738M440 776.3L610 742.3M440 780.6L610 746.6M440 784.9L610 750.9M440 789.2L610 755.2M440 793.5L610 759.5M440 797.8L610 763.8M440 802.1L610 768.1M440 806.4L610 772.4M440 810.7L610 776.7M440 815L610 781M440 819.3L610 785.3M440 823.6L610 789.6M440 827.9L610 793.9M440 832.2L610 798.2M440 836.5L610 802.5M440 840.8L610 806.8M440 845.1L610 811.1M440 849.4L610 815.4M440 853.7L610 819.7M440 858L610 824M440 862.3L610 828.3M440 866.6L610 832.6M440 870.9L610 836.9M440 875.2L610 841.2M440 879.5L610 845.5M440 883.8L610 849.8M440 888.1L610 854.1M440 892.4L610 858.4M440 896.7L610 862.7M440 901L610 867M440 905.3L610 871.3M440 909.6L610 875.6M440 913.9L610 879.9M440 918.2L610 884.2M440 922.5L610 888.5M440 926.8L610 892.8M440 931.1L610 897.1M440 935.4L610 901.4M440 939.7L610 905.7M440 944L610 910M440 948.3L610 914.3" fill="none" stroke="#2a2a2a" stroke-width="0.7"/>
<path d="M454.9 639.6 L467.1 904.3" fill="none" stroke="#1c1c1c" stroke-width="1.15" stroke-linejoin="round" stroke-linecap="round" />
<path d="M480 634.3 L492.1 896.8" fill="none" stroke="#1c1c1c" stroke-width="1.15" stroke-linejoin="round" stroke-linecap="round" />
<path d="M505.7 627.5 L530.9 622.5 L542.2 882.4 L517.1 889.7Z" fill="#fff"/>
<path clip-path="url(#c7)" d="M440 587.1L610 553.1M440 591.4L610 557.4M440 595.7L610 561.7M440 600L610 566M440 604.3L610 570.3M440 608.6L610 574.6M440 612.9L610 578.9M440 617.2L610 583.2M440 621.5L610 587.5M440 625.8L610 591.8M440 630.1L610 596.1M440 634.4L610 600.4M440 638.7L610 604.7M440 643L610 609M440 647.3L610 613.3M440 651.6L610 617.6M440 655.9L610 621.9M440 660.2L610 626.2M440 664.5L610 630.5M440 668.8L610 634.8M440 673.1L610 639.1M440 677.4L610 643.4M440 681.7L610 647.7M440 686L610 652M440 690.3L610 656.3M440 694.6L610 660.6M440 698.9L610 664.9M440 703.2L610 669.2M440 707.5L610 673.5M440 711.8L610 677.8M440 716.1L610 682.1M440 720.4L610 686.4M440 724.7L610 690.7M440 729L610 695M440 733.3L610 699.3M440 737.6L610 703.6M440 741.9L610 707.9M440 746.2L610 712.2M440 750.5L610 716.5M440 754.8L610 720.8M440 759.1L610 725.1M440 763.4L610 729.4M440 767.7L610 733.7M440 772L610 738M440 776.3L610 742.3M440 780.6L610 746.6M440 784.9L610 750.9M440 789.2L610 755.2M440 793.5L610 759.5M440 797.8L610 763.8M440 802.1L610 768.1M440 806.4L610 772.4M440 810.7L610 776.7M440 815L610 781M440 819.3L610 785.3M440 823.6L610 789.6M440 827.9L610 793.9M440 832.2L610 798.2M440 836.5L610 802.5M440 840.8L610 806.8M440 845.1L610 811.1M440 849.4L610 815.4M440 853.7L610 819.7M440 858L610 824M440 862.3L610 828.3M440 866.6L610 832.6M440 870.9L610 836.9M440 875.2L610 841.2M440 879.5L610 845.5M440 883.8L610 849.8M440 888.1L610 854.1M440 892.4L610 858.4M440 896.7L610 862.7M440 901L610 867M440 905.3L610 871.3M440 909.6L610 875.6M440 913.9L610 879.9M440 918.2L610 884.2M440 922.5L610 888.5M440 926.8L610 892.8M440 931.1L610 897.1M440 935.4L610 901.4M440 939.7L610 905.7M440 944L610 910M440 948.3L610 914.3" fill="none" stroke="#2a2a2a" stroke-width="0.7"/>
<path d="M505.7 627.5 L517.1 889.7" fill="none" stroke="#1c1c1c" stroke-width="1.15" stroke-linejoin="round" stroke-linecap="round" />
<path d="M530.9 622.5 L542.2 882.4" fill="none" stroke="#1c1c1c" stroke-width="1.15" stroke-linejoin="round" stroke-linecap="round" />
<path d="M567.2 875.1L555.2 616.6L557.7 604L557.7 604C558.4 608.3 560.6 620.7 562 630C563.4 639.3 563.1 637.6 566.3 660C569.4 682.4 576.2 729.9 580.9 764.3C585.6 798.7 592.1 849.5 594.4 866.5L593.3 868.8Z" fill="#fff"/>
<path clip-path="url(#c8)" d="M440 587.1L610 553.1M440 591.4L610 557.4M440 595.7L610 561.7M440 600L610 566M440 604.3L610 570.3M440 608.6L610 574.6M440 612.9L610 578.9M440 617.2L610 583.2M440 621.5L610 587.5M440 625.8L610 591.8M440 630.1L610 596.1M440 634.4L610 600.4M440 638.7L610 604.7M440 643L610 609M440 647.3L610 613.3M440 651.6L610 617.6M440 655.9L610 621.9M440 660.2L610 626.2M440 664.5L610 630.5M440 668.8L610 634.8M440 673.1L610 639.1M440 677.4L610 643.4M440 681.7L610 647.7M440 686L610 652M440 690.3L610 656.3M440 694.6L610 660.6M440 698.9L610 664.9M440 703.2L610 669.2M440 707.5L610 673.5M440 711.8L610 677.8M440 716.1L610 682.1M440 720.4L610 686.4M440 724.7L610 690.7M440 729L610 695M440 733.3L610 699.3M440 737.6L610 703.6M440 741.9L610 707.9M440 746.2L610 712.2M440 750.5L610 716.5M440 754.8L610 720.8M440 759.1L610 725.1M440 763.4L610 729.4M440 767.7L610 733.7M440 772L610 738M440 776.3L610 742.3M440 780.6L610 746.6M440 784.9L610 750.9M440 789.2L610 755.2M440 793.5L610 759.5M440 797.8L610 763.8M440 802.1L610 768.1M440 806.4L610 772.4M440 810.7L610 776.7M440 815L610 781M440 819.3L610 785.3M440 823.6L610 789.6M440 827.9L610 793.9M440 832.2L610 798.2M440 836.5L610 802.5M440 840.8L610 806.8M440 845.1L610 811.1M440 849.4L610 815.4M440 853.7L610 819.7M440 858L610 824M440 862.3L610 828.3M440 866.6L610 832.6M440 870.9L610 836.9M440 875.2L610 841.2M440 879.5L610 845.5M440 883.8L610 849.8M440 888.1L610 854.1M440 892.4L610 858.4M440 896.7L610 862.7M440 901L610 867M440 905.3L610 871.3M440 909.6L610 875.6M440 913.9L610 879.9M440 918.2L610 884.2M440 922.5L610 888.5M440 926.8L610 892.8M440 931.1L610 897.1M440 935.4L610 901.4M440 939.7L610 905.7M440 944L610 910M440 948.3L610 914.3" fill="none" stroke="#2a2a2a" stroke-width="0.7"/>
<path d="M555.2 616.6 L567.2 875.1" fill="none" stroke="#1c1c1c" stroke-width="1.15" stroke-linejoin="round" stroke-linecap="round" />
<path d="M557.7 604C558.4 608.3 560.6 620.7 562 630C563.4 639.3 563.1 637.6 566.3 660C569.4 682.4 576.2 729.9 580.9 764.3C585.6 798.7 592.1 849.5 594.4 866.5" fill="none" stroke="#1c1c1c" stroke-width="1.15" stroke-linejoin="round" stroke-linecap="round" />
<path clip-path="url(#c9)" d="M403.5 600L403.5 660M409.5 600L409.5 660M416.5 600L416.5 660M423.5 600L423.5 660M429.5 600L429.5 660M436.5 600L436.5 660M443.5 600L443.5 660M449.5 600L449.5 660M456.5 600L456.5 660M463.5 600L463.5 660M470.5 600L470.5 660M476.5 600L476.5 660M483.5 600L483.5 660M490.5 600L490.5 660M496.5 600L496.5 660M503.5 600L503.5 660M510.5 600L510.5 660M516.5 600L516.5 660M523.5 600L523.5 660M530.5 600L530.5 660M537.5 600L537.5 660M543.5 600L543.5 660M550.5 600L550.5 660M557.5 600L557.5 660M563.5 600L563.5 660" fill="none" stroke="#333" stroke-width="0.7"/>
<path clip-path="url(#c10)" d="M446.5 860L446.5 930M452.5 860L452.5 930M459.5 860L459.5 930M466.5 860L466.5 930M472.5 860L472.5 930M479.5 860L479.5 930M486.5 860L486.5 930M492.5 860L492.5 930M499.5 860L499.5 930M506.5 860L506.5 930M513.5 860L513.5 930M519.5 860L519.5 930M526.5 860L526.5 930M533.5 860L533.5 930M539.5 860L539.5 930M546.5 860L546.5 930M553.5 860L553.5 930M559.5 860L559.5 930M566.5 860L566.5 930M573.5 860L573.5 930M580.5 860L580.5 930M586.5 860L586.5 930M593.5 860L593.5 930M600.5 860L600.5 930M606.5 860L606.5 930" fill="none" stroke="#333" stroke-width="0.7"/>
<use href="#r5c" fill="none" stroke="#1c1c1c" stroke-width="6.6" stroke-linejoin="round" stroke-linecap="round"/>
<use href="#r5q" fill="#1c1c1c" stroke="#1c1c1c" stroke-width="2" stroke-linejoin="round"/>
<use href="#r5c" fill="none" stroke="#fff" stroke-width="4.6" stroke-linejoin="round" stroke-linecap="round"/>
<use href="#r5q" fill="#fff" stroke="none"/>
<use href="#r4c" fill="none" stroke="#1c1c1c" stroke-width="6.6" stroke-linejoin="round" stroke-linecap="round"/>
<use href="#r4q" fill="#1c1c1c" stroke="#1c1c1c" stroke-width="2" stroke-linejoin="round"/>
<use href="#r4c" fill="none" stroke="#fff" stroke-width="4.6" stroke-linejoin="round" stroke-linecap="round"/>
<use href="#r4q" fill="#fff" stroke="none"/>
<use href="#r3c" fill="none" stroke="#1c1c1c" stroke-width="6.6" stroke-linejoin="round" stroke-linecap="round"/>
<use href="#r3q" fill="#1c1c1c" stroke="#1c1c1c" stroke-width="2" stroke-linejoin="round"/>
<use href="#r3c" fill="none" stroke="#fff" stroke-width="4.6" stroke-linejoin="round" stroke-linecap="round"/>
<use href="#r3q" fill="#fff" stroke="none"/>
<use href="#r2c" fill="none" stroke="#1c1c1c" stroke-width="6.6" stroke-linejoin="round" stroke-linecap="round"/>
<use href="#r2q" fill="#1c1c1c" stroke="#1c1c1c" stroke-width="2" stroke-linejoin="round"/>
<use href="#r2c" fill="none" stroke="#fff" stroke-width="4.6" stroke-linejoin="round" stroke-linecap="round"/>
<use href="#r2q" fill="#fff" stroke="none"/>
<use href="#r1c" fill="none" stroke="#1c1c1c" stroke-width="6.6" stroke-linejoin="round" stroke-linecap="round"/>
<use href="#r1q" fill="#1c1c1c" stroke="#1c1c1c" stroke-width="2" stroke-linejoin="round"/>
<use href="#r1c" fill="none" stroke="#fff" stroke-width="4.6" stroke-linejoin="round" stroke-linecap="round"/>
<use href="#r1q" fill="#fff" stroke="none"/>
<use href="#r0c" fill="none" stroke="#1c1c1c" stroke-width="6.6" stroke-linejoin="round" stroke-linecap="round"/>
<use href="#r0q" fill="#1c1c1c" stroke="#1c1c1c" stroke-width="2" stroke-linejoin="round"/>
<use href="#r0c" fill="none" stroke="#fff" stroke-width="4.6" stroke-linejoin="round" stroke-linecap="round"/>
<use href="#r0q" fill="#fff" stroke="none"/>
<path d="M785 1050.5 L938.2 989.2 L932.9 1186.8 L782.1 1256.6Z" fill="#fff" stroke="#1c1c1c" stroke-width="1.15" stroke-linejoin="round" stroke-linecap="round" />
<path d="M775.6 1046.5 L929.9 984.9 L938.2 989.2 L785 1050.5Z" fill="#fff" stroke="#1c1c1c" stroke-width="1.15" stroke-linejoin="round" stroke-linecap="round" />
<path d="M775.6 1046.5 L785 1050.5 L782.1 1256.6 L770.7 1252Z" fill="#fff" stroke="#1c1c1c" stroke-width="1.15" stroke-linejoin="round" stroke-linecap="round" />
<path d="M595.5 864.4L751.9 815.4L751.9 815.4C757.4 815.5 773.6 815.8 785 816.3C796.4 816.8 808.7 817.3 820 818.3C831.3 819.3 842 820.8 853 822.3C864 823.8 875 824.7 886 827.2C897 829.7 908.1 833.6 919.1 837.1C930.1 840.6 941.1 844.2 952.1 848.1C963.1 852 974.1 856.4 985.1 860.8C996.1 865.2 1007.2 869.7 1018.2 874.5C1029.2 879.3 1038.3 883.9 1051.2 889.5C1064.1 895.1 1088.1 905.2 1095.5 908.3L1084.1 1134.2L950.2 1198.5L958.2 964.9L958.2 964.9C946.9 959.4 908.3 940.6 890.3 932C872.3 923.4 863.9 919.2 850 913C836.1 906.8 820.5 899.6 806.9 895C793.3 890.4 782.6 888.5 768.6 885.5C754.6 882.5 737.5 879.6 723 877C708.5 874.4 695 871.8 681.7 870C668.4 868.2 657.8 867.4 643.4 866.5C629 865.6 603.5 864.8 595.5 864.4Z" fill="#fff"/>
<path d="M595.5 864.4C603.5 864.8 629 865.6 643.4 866.5C657.8 867.4 668.4 868.2 681.7 870C695 871.8 708.5 874.4 723 877C737.5 879.6 754.6 882.5 768.6 885.5C782.6 888.5 793.3 890.4 806.9 895C820.5 899.6 836.1 906.8 850 913C863.9 919.2 872.3 923.4 890.3 932C908.3 940.6 946.9 959.4 958.2 964.9L938.2 989.2L938.2 989.2C926.8 983.2 891.4 963.7 869.5 953.4C847.6 943.1 823.7 933.8 806.9 927.4C790.1 921 782.5 919 768.6 915C754.7 911 744.8 906.5 723.4 903.4C702 900.2 661.5 897.7 640 896.1C618.5 894.5 602 894 594.4 893.6L595.5 864.4Z" fill="#fff"/>
<path d="M938.2 989.2 L958.2 964.9 L950.2 1198.5 L934.2 1193.5 L932.9 1186.8Z" fill="#fff"/>
<g fill="#fff" stroke="#5a5a5a" stroke-width="0.8"><circle cx="757.1" cy="825.4" r="1.65"/><circle cx="725.8" cy="837.1" r="1.65"/><circle cx="773.1" cy="837.1" r="1.65"/><circle cx="801.4" cy="834.1" r="1.65"/><circle cx="819.7" cy="833.8" r="1.65"/><circle cx="743.1" cy="844.1" r="1.65"/><circle cx="814.7" cy="841.8" r="1.65"/><circle cx="844.7" cy="842.4" r="1.65"/><circle cx="659.8" cy="856.4" r="1.65"/><circle cx="709.8" cy="855.1" r="1.65"/><circle cx="767.4" cy="855.1" r="1.65"/><circle cx="790.7" cy="856.4" r="1.65"/><circle cx="732.4" cy="865.4" r="1.65"/><circle cx="754.7" cy="868.1" r="1.65"/><circle cx="797.7" cy="874.4" r="1.65"/><circle cx="826.4" cy="877.7" r="1.65"/><circle cx="843.7" cy="874.4" r="1.65"/><circle cx="790.7" cy="884.7" r="1.65"/><circle cx="823" cy="885.7" r="1.65"/><circle cx="757.3" cy="825.3" r="1.65"/><circle cx="773.3" cy="837.6" r="1.65"/><circle cx="801" cy="834" r="1.65"/><circle cx="819.9" cy="834" r="1.65"/><circle cx="742.7" cy="843.6" r="1.65"/><circle cx="814.3" cy="842" r="1.65"/><circle cx="844.9" cy="842.3" r="1.65"/><circle cx="767.6" cy="855" r="1.65"/><circle cx="791" cy="857" r="1.65"/><circle cx="884.9" cy="846.6" r="1.65"/><circle cx="925.9" cy="850.6" r="1.65"/><circle cx="732.7" cy="865.6" r="1.65"/><circle cx="754.3" cy="868.3" r="1.65"/><circle cx="797.6" cy="874.6" r="1.65"/><circle cx="791" cy="885" r="1.65"/><circle cx="826.6" cy="877.6" r="1.65"/><circle cx="822.6" cy="886" r="1.65"/><circle cx="843.9" cy="874.6" r="1.65"/><circle cx="875.6" cy="869.3" r="1.65"/><circle cx="909.2" cy="883.3" r="1.65"/><circle cx="927.9" cy="881.6" r="1.65"/><circle cx="962.9" cy="884" r="1.65"/><circle cx="989.5" cy="876" r="1.65"/><circle cx="873.6" cy="898.9" r="1.65"/><circle cx="978.9" cy="899.6" r="1.65"/><circle cx="1021.2" cy="909.6" r="1.65"/><circle cx="927.9" cy="913.3" r="1.65"/><circle cx="989.2" cy="914.3" r="1.65"/><circle cx="878.6" cy="921.3" r="1.65"/><circle cx="1055.5" cy="922.9" r="1.65"/><circle cx="1026.5" cy="930.3" r="1.65"/><circle cx="931.2" cy="933.9" r="1.65"/><circle cx="948.5" cy="934.9" r="1.65"/><circle cx="965.9" cy="935.9" r="1.65"/><circle cx="971.9" cy="938.9" r="1.65"/><circle cx="982.9" cy="947.9" r="1.65"/><circle cx="1021.2" cy="951.2" r="1.65"/><circle cx="1073.8" cy="951.2" r="1.65"/><circle cx="1043.8" cy="963.2" r="1.65"/><circle cx="992.2" cy="965.9" r="1.65"/><circle cx="986.2" cy="970.9" r="1.65"/><circle cx="1031.8" cy="990.2" r="1.65"/><circle cx="1053.8" cy="988.6" r="1.65"/><circle cx="961.9" cy="1002.6" r="1.65"/><circle cx="981.2" cy="1013.5" r="1.65"/><circle cx="1015.2" cy="1016.5" r="1.65"/><circle cx="1081.5" cy="1016.5" r="1.65"/><circle cx="966.5" cy="1037.2" r="1.65"/><circle cx="1069.8" cy="1039.9" r="1.65"/><circle cx="1051.8" cy="1048.9" r="1.65"/><circle cx="997.5" cy="1065.2" r="1.65"/><circle cx="1050.8" cy="1068.8" r="1.65"/><circle cx="1085.5" cy="1070.8" r="1.65"/><circle cx="1022.2" cy="1081.8" r="1.65"/><circle cx="964.2" cy="1091.2" r="1.65"/><circle cx="992.2" cy="1094.5" r="1.65"/><circle cx="1013.5" cy="1096.2" r="1.65"/><circle cx="1057.8" cy="1090.2" r="1.65"/><circle cx="1073.8" cy="1109.2" r="1.65"/><circle cx="1044.8" cy="1124.8" r="1.65"/><circle cx="981.9" cy="1137.1" r="1.65"/><circle cx="1001.2" cy="1134.1" r="1.65"/><circle cx="1024.5" cy="1157.8" r="1.65"/><circle cx="968.5" cy="1176.5" r="1.65"/></g>
<path d="M595.5 864.4C603.5 864.8 629 865.6 643.4 866.5C657.8 867.4 668.4 868.2 681.7 870C695 871.8 708.5 874.4 723 877C737.5 879.6 754.6 882.5 768.6 885.5C782.6 888.5 793.3 890.4 806.9 895C820.5 899.6 836.1 906.8 850 913C863.9 919.2 872.3 923.4 890.3 932C908.3 940.6 946.9 959.4 958.2 964.9" fill="none" stroke="#1c1c1c" stroke-width="1.15" stroke-linejoin="round" stroke-linecap="round" />
<path d="M594.4 893.6C602 894 618.5 894.5 640 896.1C661.5 897.7 702 900.2 723.4 903.4C744.8 906.5 754.7 911 768.6 915C782.5 919 790.1 921 806.9 927.4C823.7 933.8 847.6 943.1 869.5 953.4C891.4 963.7 926.8 983.2 938.2 989.2" fill="none" stroke="#1c1c1c" stroke-width="1.15" stroke-linejoin="round" stroke-linecap="round" />
<path d="M595.5 864.4 L594.4 893.6" fill="none" stroke="#1c1c1c" stroke-width="1.15" stroke-linejoin="round" stroke-linecap="round" />
<path d="M958.2 964.9 L950.2 1198.5 L934.2 1193.5 L932.9 1186.8" fill="none" stroke="#1c1c1c" stroke-width="1.15" stroke-linejoin="round" stroke-linecap="round" />
<path d="M938.2 989.2 L932.9 1186.8" fill="none" stroke="#1c1c1c" stroke-width="1.15" stroke-linejoin="round" stroke-linecap="round" />
<path d="M950.2 1198.5 L1084.1 1134.2" fill="none" stroke="#1c1c1c" stroke-width="1.15" stroke-linejoin="round" stroke-linecap="round" />
<path d="M467.5 581.7C468.9 580.2 472.6 575.7 476 573C479.4 570.3 483.2 567.6 488 565.4C492.8 563.2 499.4 561.5 505 560C510.6 558.5 518.8 557.2 521.6 556.6L655.8 528.7L675.6 530.1L675.6 530.1C678.7 531.8 689.2 533.6 694.4 540.1C699.6 546.6 702.7 556.4 706.9 569.3C711.1 582.2 715.5 602.2 719.4 617.3C723.2 632.4 727 645.9 730 660C733 674.1 734.7 684.3 737.3 701.7C739.9 719.1 743.3 745.3 745.7 764.3C748.1 783.2 750.9 806.9 751.9 815.4L595.5 864.4L594.4 866.5C592.1 849.5 585.6 798.7 580.9 764.3C576.2 729.9 569.4 682.4 566.3 660C563.1 637.6 563.4 639.3 562 630C560.6 620.7 558.4 608.3 557.7 604L558.6 602.3L558.6 602.3C550.5 600.4 525.2 594.4 510 591C494.8 587.6 474.6 583.2 467.5 581.7Z" fill="#fff"/>
<g fill="#111"><circle cx="479.9" cy="577.6" r="1.75"/><circle cx="495.9" cy="581.6" r="1.75"/><circle cx="503.9" cy="569.9" r="1.75"/><circle cx="518.2" cy="562.6" r="1.75"/><circle cx="526.5" cy="569.9" r="1.75"/><circle cx="509.2" cy="587.2" r="1.75"/><circle cx="525.5" cy="579.2" r="1.75"/><circle cx="535.9" cy="585.6" r="1.75"/><circle cx="546.5" cy="594.9" r="1.75"/><circle cx="547.2" cy="563.9" r="1.75"/><circle cx="578.2" cy="571.6" r="1.75"/><circle cx="592.5" cy="557.3" r="1.75"/><circle cx="578.2" cy="591.6" r="1.75"/><circle cx="612.2" cy="574.3" r="1.75"/><circle cx="617.2" cy="547.3" r="1.75"/><circle cx="642.1" cy="557.3" r="1.75"/><circle cx="652.5" cy="569.3" r="1.75"/><circle cx="659.8" cy="535.9" r="1.75"/><circle cx="682.4" cy="552.3" r="1.75"/><circle cx="685.8" cy="569.9" r="1.75"/><circle cx="569.2" cy="624.2" r="1.75"/><circle cx="588.5" cy="613.2" r="1.75"/><circle cx="629.8" cy="610.9" r="1.75"/><circle cx="652.5" cy="623.2" r="1.75"/><circle cx="683.1" cy="595.9" r="1.75"/><circle cx="693.1" cy="614.9" r="1.75"/><circle cx="613.8" cy="633.9" r="1.75"/><circle cx="647.1" cy="639.2" r="1.75"/><circle cx="689.1" cy="643.2" r="1.75"/><circle cx="684.8" cy="651.5" r="1.75"/><circle cx="708.1" cy="645.9" r="1.75"/><circle cx="601.5" cy="652.2" r="1.75"/><circle cx="626.5" cy="659.2" r="1.75"/><circle cx="651.5" cy="657.2" r="1.75"/><circle cx="578.2" cy="665.2" r="1.75"/><circle cx="611.5" cy="668.5" r="1.75"/><circle cx="622.2" cy="679.9" r="1.75"/><circle cx="663.1" cy="678.2" r="1.75"/><circle cx="723.1" cy="667.5" r="1.75"/><circle cx="579.8" cy="683.9" r="1.75"/><circle cx="588.2" cy="691.9" r="1.75"/><circle cx="584.8" cy="701.8" r="1.75"/><circle cx="639.8" cy="696.5" r="1.75"/><circle cx="699.8" cy="693.2" r="1.75"/><circle cx="677.5" cy="708.5" r="1.75"/><circle cx="619.2" cy="715.8" r="1.75"/><circle cx="582.2" cy="721.5" r="1.75"/><circle cx="592.5" cy="727.5" r="1.75"/><circle cx="707.1" cy="725.2" r="1.75"/><circle cx="715.8" cy="724.5" r="1.75"/><circle cx="614.8" cy="736.5" r="1.75"/><circle cx="655.8" cy="734.8" r="1.75"/><circle cx="693.1" cy="750.5" r="1.75"/><circle cx="594.2" cy="753.5" r="1.75"/><circle cx="653.8" cy="765.8" r="1.75"/><circle cx="712.4" cy="760.5" r="1.75"/><circle cx="617.2" cy="777.8" r="1.75"/><circle cx="699.8" cy="782.1" r="1.75"/><circle cx="721.8" cy="779.1" r="1.75"/><circle cx="601.5" cy="788.1" r="1.75"/><circle cx="595.2" cy="794.8" r="1.75"/><circle cx="681.5" cy="787.5" r="1.75"/><circle cx="643.1" cy="798.1" r="1.75"/><circle cx="718.1" cy="807.5" r="1.75"/><circle cx="680.8" cy="821.4" r="1.75"/><circle cx="598.8" cy="832.4" r="1.75"/><circle cx="640.5" cy="832.4" r="1.75"/><circle cx="622.5" cy="839.1" r="1.75"/><circle cx="606.5" cy="846.4" r="1.75"/></g>
<path d="M467.5 581.7C468.9 580.2 472.6 575.7 476 573C479.4 570.3 483.2 567.6 488 565.4C492.8 563.2 499.4 561.5 505 560C510.6 558.5 518.8 557.2 521.6 556.6" fill="none" stroke="#1c1c1c" stroke-width="1.15" stroke-linejoin="round" stroke-linecap="round" />
<path d="M467.5 581.7C474.6 583.2 494.8 587.6 510 591C525.2 594.4 550.5 600.4 558.6 602.3" fill="none" stroke="#1c1c1c" stroke-width="1.15" stroke-linejoin="round" stroke-linecap="round" />
<path d="M525 557 L561.1 602.3" fill="none" stroke="#1c1c1c" stroke-width="1.15" stroke-linejoin="round" stroke-linecap="round" />
<path d="M561.1 602.3 L706.9 572.5" fill="none" stroke="#1c1c1c" stroke-width="1.15" stroke-linejoin="round" stroke-linecap="round" />
<path d="M573.4 604.8 L707.5 576.6" fill="none" stroke="#1c1c1c" stroke-width="1.15" stroke-linejoin="round" stroke-linecap="round" />
<path d="M575.4 604.8C576.5 609 579.9 620.8 582 630C584.1 639.2 585.3 637.6 588.2 660C591.1 682.4 595.6 731.1 599.6 764.3C603.6 797.5 610 843.4 612.1 859.2" fill="none" stroke="#1c1c1c" stroke-width="1.15" stroke-linejoin="round" stroke-linecap="round" />
<path d="M557.7 604C558.4 608.3 560.6 620.7 562 630C563.4 639.3 563.1 637.6 566.3 660C569.4 682.4 576.2 729.9 580.9 764.3C585.6 798.7 592.1 849.5 594.4 866.5" fill="none" stroke="#1c1c1c" stroke-width="1.15" stroke-linejoin="round" stroke-linecap="round" />
<path d="M558.6 602.3 L561.1 602.3 L564 604.5 L575.4 604.8" fill="none" stroke="#1c1c1c" stroke-width="1.15" stroke-linejoin="round" stroke-linecap="round" />
<path d="M521.6 556.6 L655.8 528.7" fill="none" stroke="#1c1c1c" stroke-width="1.15" stroke-linejoin="round" stroke-linecap="round" />
<path d="M595.5 864.4 L751.9 815.4" fill="none" stroke="#1c1c1c" stroke-width="1.15" stroke-linejoin="round" stroke-linecap="round" />
<path d="M675.6 530.1L772.6 510.9L772.6 510.9C775.5 516.5 784.6 529.7 790.3 544.3C796 558.9 802.1 579.2 807 598.5C811.9 617.8 816.5 642.8 819.7 660C822.9 677.2 824.3 687.8 826 701.7C827.7 715.6 829.1 730.5 830.1 743.4C831.1 756.3 831.9 773 832.2 778.9L837 786.2L837 786.2C841.6 786.4 855.5 786.8 864.3 787.2C873.2 787.7 881.8 788.2 890.1 788.8C898.5 789.5 906.7 790.2 914.6 791C922.6 791.8 930.3 792.7 937.9 793.7C945.4 794.7 952.8 795.8 960.1 797C967.3 798.3 974.4 799.6 981.3 801C988.3 802.4 995.1 803.8 1001.9 805.4C1008.6 807 1015.2 808.7 1021.8 810.5C1028.3 812.3 1034.8 814.2 1041.2 816.2C1047.6 818.2 1053.9 820.3 1060.3 822.5C1066.6 824.7 1072.9 827 1079.2 829.4C1085.5 831.8 1091.8 834.3 1098.1 836.9C1104.5 839.5 1110.8 842.2 1117.2 845C1123.6 847.8 1130 850.7 1136.5 853.7C1143 856.8 1149.5 859.9 1156.2 863.1C1162.9 866.3 1173.1 871.4 1176.5 873.1L1167.1 1094.1L1084.1 1134.2L1095.5 908.3L1095.5 908.3C1088.1 905.2 1064.1 895.1 1051.2 889.5C1038.3 883.9 1029.2 879.3 1018.2 874.5C1007.2 869.7 996.1 865.2 985.1 860.8C974.1 856.4 963.1 852 952.1 848.1C941.1 844.2 930.1 840.6 919.1 837.1C908.1 833.6 897 829.7 886 827.2C875 824.7 864 823.8 853 822.3C842 820.8 831.3 819.3 820 818.3C808.7 817.3 796.4 816.8 785 816.3C773.6 815.8 757.4 815.5 751.9 815.4L751.9 815.4C750.9 806.9 748.1 783.2 745.7 764.3C743.3 745.3 739.9 719.1 737.3 701.7C734.7 684.3 733 674.1 730 660C727 645.9 723.2 632.4 719.4 617.3C715.5 602.2 711.1 582.2 706.9 569.3C702.7 556.4 699.6 546.6 694.4 540.1C689.2 533.6 678.7 531.8 675.6 530.1Z" fill="#d0cfd0"/>
<path d="M655.8 528.7 L748.6 508.4 L772.6 510.9 L675.6 530.1Z" fill="#d0cfd0"/>
<path d="M675.6 530.1L772.6 510.9L772.6 510.9C775.5 516.5 784.6 529.7 790.3 544.3C796 558.9 802.1 579.2 807 598.5C811.9 617.8 816.5 642.8 819.7 660C822.9 677.2 824.3 687.8 826 701.7C827.7 715.6 829.1 730.5 830.1 743.4C831.1 756.3 831.9 773 832.2 778.9L837 786.2L837 786.2C841.6 786.4 855.5 786.8 864.3 787.2C873.2 787.7 881.8 788.2 890.1 788.8C898.5 789.5 906.7 790.2 914.6 791C922.6 791.8 930.3 792.7 937.9 793.7C945.4 794.7 952.8 795.8 960.1 797C967.3 798.3 974.4 799.6 981.3 801C988.3 802.4 995.1 803.8 1001.9 805.4C1008.6 807 1015.2 808.7 1021.8 810.5C1028.3 812.3 1034.8 814.2 1041.2 816.2C1047.6 818.2 1053.9 820.3 1060.3 822.5C1066.6 824.7 1072.9 827 1079.2 829.4C1085.5 831.8 1091.8 834.3 1098.1 836.9C1104.5 839.5 1110.8 842.2 1117.2 845C1123.6 847.8 1130 850.7 1136.5 853.7C1143 856.8 1149.5 859.9 1156.2 863.1C1162.9 866.3 1173.1 871.4 1176.5 873.1L1167.1 1094.1L1084.1 1134.2L1095.5 908.3L1095.5 908.3C1088.1 905.2 1064.1 895.1 1051.2 889.5C1038.3 883.9 1029.2 879.3 1018.2 874.5C1007.2 869.7 996.1 865.2 985.1 860.8C974.1 856.4 963.1 852 952.1 848.1C941.1 844.2 930.1 840.6 919.1 837.1C908.1 833.6 897 829.7 886 827.2C875 824.7 864 823.8 853 822.3C842 820.8 831.3 819.3 820 818.3C808.7 817.3 796.4 816.8 785 816.3C773.6 815.8 757.4 815.5 751.9 815.4L751.9 815.4C750.9 806.9 748.1 783.2 745.7 764.3C743.3 745.3 739.9 719.1 737.3 701.7C734.7 684.3 733 674.1 730 660C727 645.9 723.2 632.4 719.4 617.3C715.5 602.2 711.1 582.2 706.9 569.3C702.7 556.4 699.6 546.6 694.4 540.1C689.2 533.6 678.7 531.8 675.6 530.1Z" fill="none" stroke="#1c1c1c" stroke-width="1.15" stroke-linejoin="round" stroke-linecap="round" />
<path d="M655.8 528.7 L675.6 530.1" fill="none" stroke="#1c1c1c" stroke-width="1.15" stroke-linejoin="round" stroke-linecap="round" />
<path d="M748.6 508.4 L772.6 510.9" fill="none" stroke="#1c1c1c" stroke-width="1.15" stroke-linejoin="round" stroke-linecap="round" />
<path d="M655.8 528.7 L748.6 508.4" fill="none" stroke="#1c1c1c" stroke-width="1.15" stroke-linejoin="round" stroke-linecap="round" />
<g font-family="'Liberation Sans', sans-serif" fill="#0a0a0a" filter="url(#idf)">
<text x="852.6" y="235.9" font-size="36" textLength="114.8" lengthAdjust="spacingAndGlyphs">Stoffen</text>
<text x="983.3" y="235.9" font-size="36" textLength="154.6" lengthAdjust="spacingAndGlyphs">bekleding</text>
<text x="691.3" y="279.5" font-size="36" textLength="115.4" lengthAdjust="spacingAndGlyphs">Dacron</text>
<text x="1402.3" y="332" font-size="36" textLength="115.2" lengthAdjust="spacingAndGlyphs">Stoffen</text>
<text x="1533.1" y="332" font-size="36" textLength="154.5" lengthAdjust="spacingAndGlyphs">bekleding</text>
<text x="294.2" y="374.9" font-size="36" textLength="63.4" lengthAdjust="spacingAndGlyphs">T14</text>
<text x="366.9" y="374.9" font-size="36" textLength="150.2" lengthAdjust="spacingAndGlyphs">polyether</text>
<text x="526.3" y="374.9" font-size="36" textLength="113.1" lengthAdjust="spacingAndGlyphs">schuim</text>
<text x="87.7" y="502.2" font-size="36" textLength="181.6" lengthAdjust="spacingAndGlyphs">Singelband</text>
<text x="277.8" y="502.2" font-size="36" textLength="100.5" lengthAdjust="spacingAndGlyphs">vering</text>
<text x="48.2" y="969.4" font-size="36" textLength="73.6" lengthAdjust="spacingAndGlyphs">MDF</text>
<text x="131.6" y="969.4" font-size="36" textLength="191.4" lengthAdjust="spacingAndGlyphs">afdekplaten</text>
<text x="229.7" y="1329.8" font-size="36" textLength="103.3" lengthAdjust="spacingAndGlyphs">Nosag</text>
<text x="342.5" y="1329.8" font-size="36" textLength="100.6" lengthAdjust="spacingAndGlyphs">vering</text>
<text x="912.3" y="1339" font-size="36" textLength="116.7" lengthAdjust="spacingAndGlyphs">Houten</text>
<text x="1040.8" y="1339" font-size="36" textLength="100" lengthAdjust="spacingAndGlyphs">Frame</text>
<text x="1171.5" y="1273" font-size="36" textLength="61.3" lengthAdjust="spacingAndGlyphs">T30</text>
<text x="1243.9" y="1273" font-size="36" textLength="149.1" lengthAdjust="spacingAndGlyphs">polyether</text>
<text x="1403.1" y="1273" font-size="36" textLength="113.3" lengthAdjust="spacingAndGlyphs">schuim</text>
<text x="1377.7" y="1169.5" font-size="36" textLength="115.4" lengthAdjust="spacingAndGlyphs">Dacron</text>
<text x="1391.8" y="1061.7" font-size="36" textLength="115.6" lengthAdjust="spacingAndGlyphs">Stoffen</text>
<text x="1522.6" y="1061.7" font-size="36" textLength="154.7" lengthAdjust="spacingAndGlyphs">bekleding</text>
</g>
<path d="M979.8 277 L941 535" fill="none" stroke="#1c1c1c" stroke-width="1.05" stroke-linejoin="round" stroke-linecap="round" />
<path d="M741.2 296.5 L748.6 555.8" fill="none" stroke="#1c1c1c" stroke-width="1.05" stroke-linejoin="round" stroke-linecap="round" />
<path d="M1533.9 349.1 L1371 581" fill="none" stroke="#1c1c1c" stroke-width="1.05" stroke-linejoin="round" stroke-linecap="round" />
<path d="M522.6 390.6 L615.5 616.9" fill="none" stroke="#1c1c1c" stroke-width="1.05" stroke-linejoin="round" stroke-linecap="round" />
<path d="M220.5 514.8 L467 696.1" fill="none" stroke="#1c1c1c" stroke-width="1.05" stroke-linejoin="round" stroke-linecap="round" />
<path d="M283 987.7 L508.2 1000.1" fill="none" stroke="#1c1c1c" stroke-width="1.05" stroke-linejoin="round" stroke-linecap="round" />
<path d="M343.7 1280.4 L674.6 977.7" fill="none" stroke="#1c1c1c" stroke-width="1.05" stroke-linejoin="round" stroke-linecap="round" />
<path d="M855.1 1102.7 L936.9 1305.3" fill="none" stroke="#1c1c1c" stroke-width="1.05" stroke-linejoin="round" stroke-linecap="round" />
<path d="M1027 1109.4 L1221.5 1230.8" fill="none" stroke="#1c1c1c" stroke-width="1.05" stroke-linejoin="round" stroke-linecap="round" />
<path d="M1119.5 1057.5 L1433 1132.8" fill="none" stroke="#1c1c1c" stroke-width="1.05" stroke-linejoin="round" stroke-linecap="round" />
<path d="M1306.5 876 L1520.4 1019" fill="none" stroke="#1c1c1c" stroke-width="1.05" stroke-linejoin="round" stroke-linecap="round" />
<path d="M109.1 114.8H162.9V140.8H135.9V162.4H161.1V187.7H135.9V248.1H109.1ZM171.4 114.8H197.8V226.1H225.5V248.1H171.4ZM265 113.9C286.5 113.9 298.2 124 298.2 147V216C298.2 239 286.5 249.5 265 249.5C243.5 249.5 231.7 239 231.7 216V147C231.7 124 243.5 113.9 265 113.9ZM258.5 144.4A6.4 6.4 0 0 1 271.3 144.4V219A6.4 6.4 0 0 1 258.5 219ZM304.7 114.8H330.7L337.7 198.5L346.1 114.8H370.7L377.6 198.5L384.9 114.8H411.1L396.9 248.1H364.2L357.9 184.7L351.6 248.1H318.5Z" fill="#000" fill-rule="evenodd"/>
</svg>
</body></html>
